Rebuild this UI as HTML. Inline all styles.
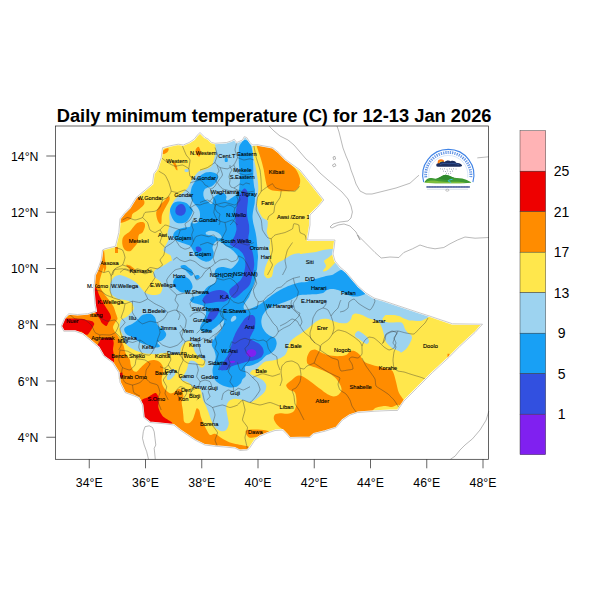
<!DOCTYPE html>
<html><head><meta charset="utf-8">
<style>
html,body{margin:0;padding:0;background:#fff;}
body{width:600px;height:600px;overflow:hidden;position:relative;font-family:"Liberation Sans",sans-serif;}
svg{position:absolute;left:0;top:0;}
text{font-family:"Liberation Sans",sans-serif;fill:#000;}
.t{font-size:12.3px;}
.cb{font-size:14px;}
.lb{font-size:5.7px;}
.lb text{stroke:#000;stroke-width:0.12px;}
</style></head><body>
<svg width="600" height="600" viewBox="0 0 600 600">
<defs><clipPath id="eth"><path d="M162.5 147.8L170.0 145.8L178.3 144.2L183.3 145.0L189.2 142.5L194.2 139.2L197.5 135.0L200.0 132.5L202.5 135.0L205.0 137.5L208.3 139.2L211.7 142.5L215.0 143.3L226.7 142.5L231.7 140.8L234.2 139.2L236.7 142.5L242.5 140.0L244.2 136.7L246.7 137.5L250.0 142.5L252.5 145.0L258.3 144.7L258.8 145.0L272.5 147.5L278.8 152.5L286.2 160.0L300.0 170.0L310.0 182.5L323.8 200.0L317.5 207.5L310.0 215.0L310.0 225.0L307.5 240.0L335.0 240.0L335.0 240.0L334.0 248.0L333.0 254.0L335.0 261.0L340.0 267.0L346.0 272.0L352.0 279.0L358.0 286.0L366.0 293.0L374.0 298.0L384.0 301.0L396.0 305.0L408.0 309.0L420.0 313.0L430.0 316.2L452.5 323.8L482.5 324.2L475.0 332.5L460.0 346.2L448.8 357.5L432.5 372.5L417.5 387.5L403.8 401.2L397.5 410.5L390.0 410.5L375.0 411.2L357.5 412.5L350.0 415.0L342.5 420.0L336.2 427.5L325.0 431.2L313.8 433.8L310.0 437.5L290.0 438.0L287.5 435.0L282.5 430.0L275.0 430.5L267.5 433.0L260.0 436.2L255.0 440.0L250.0 447.5L247.5 450.0L240.0 450.5L235.0 448.0L225.0 447.0L215.0 446.2L205.0 445.0L195.0 440.0L187.5 435.0L180.0 430.0L173.8 425.0L165.0 423.8L150.0 422.5L143.8 417.5L142.5 405.0L138.8 398.0L135.0 396.2L125.0 392.5L120.0 382.5L118.8 372.5L112.5 362.5L103.8 356.2L98.8 347.5L90.0 340.0L82.5 333.8L75.0 331.2L63.8 331.2L61.2 326.2L65.0 317.5L68.8 313.8L77.5 314.5L87.5 313.8L96.2 311.2L95.0 305.0L93.8 290.0L95.0 275.0L97.5 270.0L101.2 260.0L102.5 250.0L105.0 248.8L115.5 246.2L118.8 232.5L120.0 218.8L125.0 212.5L130.0 207.5L136.2 197.5L152.5 183.8L153.8 173.8L157.5 168.8L161.2 157.5L162.5 148.0Z"/></clipPath></defs>
<g clip-path="url(#eth)">
<rect x="50" y="120" width="450" height="345" fill="#ffe74c"/>
<path d="M162.5 151.7C162.9 150.8 164.0 149.7 165.0 149.2C166.0 148.6 167.8 148.1 168.3 148.3C168.9 148.6 168.8 150.0 168.3 150.8C167.9 151.7 166.8 152.8 165.8 153.3C164.9 153.9 163.1 154.4 162.5 154.2C161.9 153.9 162.1 152.5 162.5 151.7Z" fill="#ff8c00"/>
<path d="M195.8 149.2C196.2 148.2 197.6 146.7 198.3 146.7C199.0 146.7 199.6 148.1 200.0 149.2C200.4 150.3 201.0 152.1 200.8 153.3C200.7 154.6 199.8 156.4 199.2 156.7C198.5 156.9 197.6 155.7 197.0 155.0C196.4 154.3 196.0 153.5 195.8 152.5C195.6 151.5 195.4 150.1 195.8 149.2Z" fill="#ff8c00"/>
<path d="M172.5 161.7C172.6 161.1 174.3 161.8 175.0 162.5C175.7 163.2 176.2 164.6 176.7 165.8C177.1 167.1 177.6 169.4 177.5 170.0C177.4 170.6 176.4 169.9 175.8 169.2C175.3 168.5 174.7 167.1 174.2 165.8C173.6 164.6 172.4 162.2 172.5 161.7Z" fill="#ff8c00"/>
<path d="M133.8 196.2C136.1 195.1 141.3 198.1 143.0 199.5C144.7 200.9 144.9 202.7 144.0 204.5C143.1 206.3 139.4 208.9 137.5 210.5C135.6 212.1 133.7 212.6 132.5 214.0C131.3 215.4 132.5 217.5 130.5 219.0C128.5 220.5 122.7 222.8 120.5 223.0C118.3 223.2 117.2 221.8 117.5 220.0C117.8 218.2 120.6 214.8 122.5 212.5C124.4 210.2 126.9 209.0 128.8 206.2C130.6 203.5 131.4 197.4 133.8 196.2Z" fill="#ff8c00"/>
<path d="M163.8 201.2C165.2 199.8 167.8 196.5 168.8 196.2C169.7 196.0 170.0 198.1 169.5 200.0C169.0 201.9 166.8 205.0 165.5 207.5C164.2 210.0 162.7 212.3 162.0 215.0C161.3 217.7 161.9 222.7 161.2 223.8C160.6 224.8 158.8 223.1 158.0 221.2C157.2 219.4 155.9 215.2 156.2 212.5C156.6 209.8 158.8 206.9 160.0 205.0C161.2 203.1 162.3 202.7 163.8 201.2Z" fill="#ff8c00"/>
<path d="M125.0 235.0C126.2 233.8 128.3 232.9 130.0 231.2C131.7 229.6 133.5 226.5 135.0 225.0C136.5 223.5 137.3 222.9 138.8 222.5C140.2 222.1 142.7 221.9 143.8 222.5C144.8 223.1 145.2 224.6 145.0 226.2C144.8 227.9 143.5 231.0 142.5 232.5C141.5 234.0 139.6 233.3 138.8 235.0C137.9 236.7 138.3 240.4 137.5 242.5C136.7 244.6 135.0 246.0 133.8 247.5C132.5 249.0 131.5 250.8 130.0 251.2C128.5 251.7 126.2 251.0 125.0 250.0C123.8 249.0 122.9 246.9 122.5 245.0C122.1 243.1 122.1 240.4 122.5 238.8C122.9 237.1 123.8 236.2 125.0 235.0Z" fill="#ff8c00"/>
<path d="M126.2 265.0C126.5 264.5 129.8 265.4 131.2 266.2C132.7 267.1 135.2 269.5 135.0 270.0C134.8 270.5 131.5 270.3 130.0 269.5C128.5 268.7 126.0 265.5 126.2 265.0Z" fill="#ff8c00"/>
<path d="M115.0 247.0L118.0 247.0L118.0 253.0L115.0 253.0Z" fill="#ff8c00"/>
<path d="M100.0 247.5C102.1 248.2 103.0 248.1 103.8 250.0C104.5 251.9 104.6 257.4 105.0 260.0C105.4 262.6 106.4 265.6 106.2 267.5C106.1 269.4 104.1 273.0 103.8 273.0C103.4 273.0 104.1 267.2 103.8 267.5C103.4 267.8 101.9 272.8 101.2 275.0C100.6 277.2 99.6 280.6 99.5 282.5C99.4 284.4 99.7 286.1 100.5 288.0C101.3 289.9 103.6 293.0 105.0 295.0C106.4 297.0 108.7 299.4 110.0 301.2C111.3 303.1 112.9 305.4 113.8 307.2C114.6 309.1 115.2 311.5 115.8 313.2C116.3 315.0 117.6 317.3 117.5 318.8C117.4 320.2 115.7 321.5 115.0 322.8C114.3 324.0 113.0 325.9 113.0 327.2C113.0 328.6 114.3 330.7 115.0 332.0C115.7 333.3 117.0 334.8 117.8 336.0C118.5 337.2 119.5 338.8 120.2 340.0C121.0 341.2 122.4 342.8 123.0 344.0C123.6 345.2 123.9 346.6 124.2 348.0C124.6 349.4 124.8 351.5 125.5 353.0C126.2 354.5 128.1 356.9 128.8 358.0C129.4 359.1 129.7 358.9 130.0 360.0C130.3 361.1 130.3 363.4 130.8 365.0C131.3 366.6 132.5 369.8 133.3 370.8C134.2 371.8 135.7 372.0 136.7 371.7C137.7 371.3 138.9 369.5 140.0 368.3C141.1 367.2 142.8 365.3 144.2 364.2C145.5 363.0 147.7 361.5 149.2 360.8C150.7 360.2 152.7 359.9 154.2 360.0C155.7 360.1 157.9 360.8 159.2 361.7C160.4 362.5 161.9 364.3 162.5 365.8C163.1 367.3 163.5 369.8 163.3 371.7C163.2 373.5 161.8 376.3 161.7 378.3C161.5 380.3 161.9 383.2 162.5 385.0C163.1 386.8 164.7 388.8 165.8 390.0C167.0 391.2 168.8 393.0 170.0 393.3C171.2 393.7 173.2 393.0 174.2 392.5C175.2 392.0 175.8 390.5 176.7 390.0C177.5 389.5 179.1 388.9 180.0 389.2C180.9 389.4 182.0 390.5 182.5 391.7C183.0 392.8 183.5 395.2 183.3 396.7C183.2 398.2 181.8 399.9 181.7 401.7C181.5 403.4 182.2 406.3 182.5 408.3C182.8 410.3 183.1 413.0 183.3 415.0C183.6 417.0 183.4 420.4 184.2 421.7C184.9 422.9 187.1 423.6 188.3 423.3C189.6 423.1 191.5 421.5 192.5 420.0C193.5 418.5 194.4 415.1 195.0 413.3C195.6 411.6 196.0 408.8 196.7 408.3C197.3 407.8 198.5 408.8 199.2 410.0C199.8 411.2 200.2 414.7 200.8 416.7C201.5 418.7 202.5 421.3 203.3 423.3C204.2 425.3 205.7 428.2 206.7 430.0C207.7 431.8 208.8 434.4 210.0 435.0C211.2 435.6 213.1 433.2 215.0 433.8C216.9 434.3 220.2 437.4 222.5 438.8C224.8 440.1 227.8 441.7 230.0 442.5C232.2 443.3 235.2 443.8 237.5 444.2C239.8 444.7 243.2 445.2 245.0 445.8C246.8 446.3 248.8 445.9 249.5 448.0C250.2 450.1 267.9 458.2 250.0 460.0C232.1 461.8 160.0 469.0 130.0 460.0C100.0 451.0 62.0 424.0 50.0 400.0C38.0 376.0 44.0 323.2 50.0 300.0C56.0 276.8 82.5 252.9 90.0 245.0C97.5 237.1 97.9 246.8 100.0 247.5Z" fill="#ff8c00"/>
<path d="M246.0 430.5C247.5 429.2 254.3 429.4 258.0 429.5C261.7 429.6 266.3 430.2 268.0 431.0C269.7 431.8 269.7 433.1 268.0 434.0C266.3 434.9 261.2 435.9 258.0 436.5C254.8 437.1 251.0 438.5 249.0 437.5C247.0 436.5 244.5 431.8 246.0 430.5Z" fill="#ff8c00"/>
<path d="M257.0 142.5C258.9 142.0 269.6 145.0 272.5 146.2C275.4 147.5 277.1 150.2 278.8 152.0C280.4 153.8 283.7 158.1 285.0 159.5C286.3 160.9 287.2 161.1 288.8 162.5C290.2 163.9 294.8 167.8 296.2 170.0C297.8 172.2 299.6 176.8 300.0 178.8C300.4 180.8 300.2 183.4 299.5 185.0C298.8 186.6 297.3 189.7 295.0 190.5C292.7 191.3 285.5 191.2 282.5 191.2C279.5 191.2 274.5 191.0 272.5 190.5C270.5 190.0 268.4 188.9 267.5 187.5C266.6 186.1 266.0 182.3 265.5 180.0C265.0 177.7 264.3 172.7 263.8 170.0C263.2 167.3 262.0 162.7 261.2 160.0C260.5 157.3 258.6 152.3 258.0 150.0C257.4 147.7 255.1 143.0 257.0 142.5Z" fill="#ff8c00"/>
<path d="M286.2 385.0C286.6 383.6 289.6 381.9 291.2 380.5C292.9 379.1 295.6 376.3 297.5 375.8C299.4 375.2 301.5 375.9 303.8 377.0C306.0 378.1 310.1 381.2 312.5 383.0C314.9 384.8 317.8 387.1 320.0 388.8C322.2 390.4 325.4 393.1 327.5 394.2C329.6 395.4 332.1 396.5 333.8 396.5C335.4 396.5 337.6 395.5 338.8 394.5C339.9 393.5 341.3 391.5 341.5 390.0C341.7 388.5 341.0 386.4 340.0 384.5C339.0 382.6 336.9 379.3 335.0 377.5C333.1 375.7 330.1 373.9 327.5 372.5C324.9 371.1 320.4 369.5 317.5 368.2C314.6 367.0 309.6 365.9 308.0 364.2C306.4 362.6 306.7 359.4 307.0 357.5C307.3 355.6 308.8 352.4 310.0 351.2C311.2 350.1 313.3 349.3 315.0 349.5C316.7 349.7 319.4 351.7 321.2 352.5C323.1 353.3 325.1 354.4 327.5 355.0C329.9 355.6 334.7 356.2 337.5 356.2C340.3 356.2 344.4 355.8 346.2 355.0C348.1 354.2 348.7 351.8 350.0 351.2C351.3 350.7 353.5 350.7 355.0 351.2C356.5 351.8 358.7 353.5 360.0 355.0C361.3 356.5 361.9 359.8 363.8 361.2C365.6 362.8 369.7 364.1 372.5 365.0C375.3 365.9 379.7 366.8 382.5 367.5C385.3 368.2 389.6 369.1 391.2 370.0C392.9 370.9 393.0 371.9 393.8 373.8C394.5 375.6 395.5 379.7 396.2 382.5C397.0 385.3 397.6 389.9 398.8 392.5C399.9 395.1 402.6 398.1 403.8 400.0C404.9 401.9 406.8 402.0 406.2 405.0C405.7 408.0 409.9 414.8 400.0 420.0C390.1 425.2 356.5 436.2 340.0 440.0C323.5 443.8 297.9 445.8 290.0 445.0C282.1 444.2 288.4 437.2 287.5 435.0C286.6 432.8 284.9 431.1 283.8 430.0C282.6 428.9 281.1 428.4 280.0 427.5C278.9 426.6 277.2 425.1 276.2 423.8C275.3 422.4 273.9 420.1 273.8 418.8C273.6 417.4 274.1 415.3 275.0 414.5C275.9 413.7 278.1 413.4 280.0 413.2C281.9 413.1 285.4 414.1 287.5 413.8C289.6 413.4 292.4 412.6 293.8 411.2C295.1 409.9 295.9 407.1 296.2 405.0C296.6 402.9 296.5 399.4 296.2 397.5C296.0 395.6 295.6 393.2 294.5 392.0C293.4 390.8 290.0 390.6 288.8 389.5C287.5 388.4 285.9 386.4 286.2 385.0Z" fill="#ff8c00"/>
<path d="M447.5 353.8L449.5 353.8L449.5 358.8L447.5 358.8Z" fill="#ff8c00"/>
<path d="M375.0 408.2C376.7 407.0 382.2 406.2 385.0 406.0C387.8 405.8 389.7 407.2 392.0 407.0C394.3 406.8 397.2 404.0 399.0 405.0C400.8 406.0 407.0 411.7 403.0 413.0C399.0 414.3 379.7 413.8 375.0 413.0C370.3 412.2 373.3 409.4 375.0 408.2Z" fill="#ffe74c"/>
<path d="M92.0 287.0C92.6 285.9 95.4 287.0 96.3 288.0C97.2 289.0 98.2 292.9 99.0 294.7C99.8 296.5 101.3 299.5 102.3 301.3C103.3 303.1 105.3 306.4 106.3 308.0C107.3 309.6 109.1 312.0 109.7 313.3C110.3 314.6 111.2 316.7 111.0 318.0C110.8 319.3 108.9 321.6 108.3 322.7C107.7 323.8 107.2 326.0 106.3 326.0C105.4 326.0 102.6 323.7 101.7 322.7C100.8 321.7 100.5 320.0 99.7 318.7C98.9 317.4 96.4 314.8 95.5 313.0C94.6 311.2 93.5 307.3 93.0 305.0C92.5 302.7 92.1 298.4 92.0 296.0C91.9 293.6 91.4 288.1 92.0 287.0Z" fill="#ee0000"/>
<path d="M60.0 318.7C62.4 318.1 79.1 318.6 81.7 318.7C84.3 318.8 85.2 319.7 86.3 320.0C87.4 320.3 91.5 320.9 92.3 321.3C93.1 321.7 94.3 323.3 94.3 324.0C94.3 324.7 92.7 327.3 92.3 328.0C91.9 328.7 90.8 330.6 90.3 331.3C89.8 332.0 88.4 334.4 87.7 334.7C87.0 335.0 84.3 334.6 83.7 334.3C83.1 334.0 82.6 332.1 81.7 331.8C80.8 331.5 77.2 331.5 75.0 331.5C72.8 331.5 61.7 332.6 60.0 332.0C58.3 331.4 58.0 326.3 58.0 325.0C58.0 323.7 57.6 319.3 60.0 318.7Z" fill="#ee0000"/>
<path d="M101.7 338.7C103.4 338.1 110.1 337.5 111.7 338.0C113.3 338.5 113.5 341.2 113.7 342.7C113.9 344.2 113.0 347.7 113.0 349.3C113.0 350.9 113.6 352.9 113.7 354.7C113.8 356.5 114.6 362.2 113.5 363.0C112.4 363.8 107.2 361.9 105.7 361.0C104.2 360.1 103.0 357.2 102.0 356.0C101.0 354.8 99.0 353.2 98.3 352.0C97.6 350.8 96.4 348.2 96.5 347.0C96.6 345.8 98.3 343.8 99.0 342.7C99.7 341.6 100.0 339.3 101.7 338.7Z" fill="#ee0000"/>
<path d="M141.7 400.3C142.5 398.7 146.1 398.3 147.5 397.5C148.9 396.7 151.4 394.8 152.5 394.2C153.6 393.6 155.1 392.7 155.8 393.0C156.6 393.3 158.0 395.5 158.3 396.7C158.7 397.8 158.7 400.3 158.7 401.7C158.7 403.0 158.2 405.3 158.3 406.7C158.5 408.0 159.3 410.3 160.0 411.7C160.7 413.0 162.2 415.6 163.3 416.7C164.4 417.8 167.1 419.1 168.3 420.0C169.6 420.9 172.9 422.8 172.5 423.3C172.1 423.9 167.1 424.1 165.0 424.2C162.9 424.3 158.7 424.3 156.7 424.2C154.7 424.1 151.4 423.7 150.0 423.3C148.6 423.0 146.9 422.4 145.8 421.7C144.7 420.9 142.3 419.1 141.7 417.5C141.1 415.9 141.3 412.3 141.3 410.0C141.3 407.7 140.8 402.0 141.7 400.3Z" fill="#ee0000"/>
<path d="M117.5 373.3L122.5 372.5L123.0 377.5L118.0 378.0Z" fill="#ee0000"/>
<path d="M215.0 125.0C210.1 127.5 214.9 140.6 215.0 143.7C215.1 146.8 215.8 146.8 215.8 148.3C215.8 149.8 215.3 153.2 215.0 155.0C214.7 156.8 213.8 160.2 213.3 161.7C212.9 163.1 212.3 164.9 211.7 165.8C211.0 166.7 209.4 167.8 208.3 168.3C207.2 168.9 204.7 169.6 203.3 170.0C202.0 170.4 199.6 170.8 198.3 171.7C197.1 172.6 195.2 175.3 194.2 176.7C193.2 178.0 191.6 180.3 190.8 181.7C190.1 183.0 189.1 185.4 188.3 186.7C187.6 187.9 186.1 189.7 185.0 190.8C183.9 191.9 181.2 194.0 180.0 195.0C178.8 196.0 176.8 197.2 175.8 198.3C174.8 199.4 173.3 201.8 172.5 203.3C171.7 204.9 170.4 208.2 170.0 210.0C169.6 211.8 169.2 214.9 169.2 216.7C169.2 218.4 169.9 222.9 170.0 223.3C170.1 223.8 170.1 219.6 170.0 220.0C169.9 220.4 169.5 224.9 169.2 226.7C168.8 228.4 167.6 231.6 167.5 233.3C167.4 235.1 168.6 238.4 168.3 240.0C168.1 241.6 166.5 243.7 165.8 245.0C165.2 246.3 163.2 248.9 163.3 250.0C163.4 251.1 165.7 252.6 166.7 253.3C167.7 254.1 170.2 254.8 170.8 255.8C171.5 256.8 171.8 260.1 171.7 260.8C171.6 261.6 171.2 260.5 170.0 261.2C168.8 262.0 164.5 265.1 162.5 266.2C160.5 267.4 156.2 268.7 155.0 270.0C153.8 271.3 153.1 274.8 153.8 276.2C154.4 277.8 158.8 279.8 160.0 281.2C161.2 282.8 162.5 285.8 162.5 287.5C162.5 289.2 161.3 292.8 160.0 293.8C158.7 294.8 154.5 295.2 152.5 295.0C150.5 294.8 147.0 294.0 145.0 292.5C143.0 291.0 139.5 285.6 137.5 283.8C135.5 281.9 132.3 279.9 130.0 278.8C127.7 277.6 122.2 275.2 120.0 275.0C117.8 274.8 115.1 276.2 113.8 277.5C112.4 278.8 110.3 282.8 110.0 285.0C109.7 287.2 110.2 291.9 111.2 293.8C112.2 295.6 115.7 297.9 117.5 298.8C119.3 299.6 123.2 299.5 125.0 300.0C126.8 300.5 130.1 301.3 131.2 302.5C132.4 303.7 134.2 306.9 133.8 308.8C133.2 310.6 129.2 314.8 127.5 316.2C125.8 317.8 122.3 318.5 121.2 320.0C120.2 321.5 119.3 325.5 119.5 327.5C119.7 329.5 121.8 333.0 122.5 335.0C123.2 337.0 124.0 340.8 125.0 342.5C126.0 344.2 128.3 346.3 130.0 347.5C131.7 348.7 135.2 350.4 137.5 351.2C139.8 352.1 145.2 353.4 147.5 353.8C149.8 354.1 153.3 354.2 155.0 354.2C156.7 354.2 158.8 353.7 160.0 353.5C161.2 353.3 163.0 353.1 164.0 353.0C165.0 352.9 166.7 352.4 167.5 352.5C168.3 352.6 169.3 353.7 170.0 354.0C170.7 354.3 172.1 354.5 173.0 354.5C173.9 354.5 175.6 354.2 176.5 354.0C177.4 353.8 179.4 353.8 180.0 353.0C180.6 352.2 180.5 349.2 181.0 348.0C181.5 346.8 182.7 344.9 183.5 344.0C184.3 343.1 186.1 341.5 187.0 341.2C187.9 340.9 189.3 341.1 190.0 341.5C190.7 341.9 191.5 343.1 192.0 344.0C192.5 344.9 193.1 346.9 193.5 348.0C193.9 349.1 194.4 350.9 195.0 352.0C195.6 353.1 197.1 355.1 198.0 356.0C198.9 356.9 201.1 358.3 202.0 359.0C202.9 359.7 204.6 360.5 205.0 361.2C205.4 361.9 205.2 363.7 205.0 364.5C204.8 365.3 204.0 366.6 203.5 367.0C203.0 367.4 201.6 367.7 201.0 367.5C200.4 367.3 199.5 366.1 199.0 365.5C198.5 364.9 197.7 363.6 197.0 363.0C196.3 362.4 194.8 361.3 194.0 361.0C193.2 360.7 191.7 360.4 191.0 360.5C190.3 360.6 189.4 361.4 189.0 362.0C188.6 362.6 188.3 364.1 188.0 365.0C187.7 365.9 187.4 367.9 187.0 369.0C186.6 370.1 185.6 371.9 185.0 373.0C184.4 374.1 183.0 376.1 182.5 377.0C182.0 377.9 180.9 379.0 181.0 379.5C181.1 380.0 182.3 380.7 183.0 381.0C183.7 381.3 185.2 381.2 186.0 381.5C186.8 381.8 188.3 382.5 189.0 383.0C189.7 383.5 190.5 384.5 191.0 385.0C191.5 385.5 192.3 386.6 193.0 387.0C193.7 387.4 195.2 387.8 196.0 388.0C196.8 388.2 198.3 388.1 199.0 388.5C199.7 388.9 200.6 390.1 201.0 391.0C201.4 391.9 201.7 393.8 202.0 395.0C202.3 396.2 202.5 398.7 203.0 400.0C203.5 401.3 204.8 403.5 205.5 405.0C206.2 406.5 207.2 409.0 208.0 411.0C208.8 413.0 210.3 417.8 211.2 420.0C212.2 422.2 213.7 426.0 215.0 427.5C216.3 429.0 219.8 430.9 221.2 431.2C222.8 431.6 225.2 431.0 226.2 430.0C227.2 429.0 228.6 425.6 228.8 423.8C228.9 421.9 227.8 418.4 227.5 416.2C227.2 414.1 226.1 409.5 226.2 407.5C226.4 405.5 227.6 402.4 228.8 401.2C229.9 400.1 233.2 398.9 235.0 398.8C236.8 398.6 240.5 399.5 242.5 400.0C244.5 400.5 248.3 402.5 250.0 402.5C251.7 402.5 253.7 400.8 255.0 400.0C256.3 399.2 258.7 397.4 260.0 396.2C261.3 395.1 264.2 392.8 265.0 391.2C265.8 389.8 266.6 386.5 266.2 385.0C265.9 383.5 264.0 381.2 262.5 380.0C261.0 378.8 256.7 377.1 255.0 376.2C253.3 375.4 250.3 374.6 250.0 373.8C249.7 372.9 251.7 370.5 252.5 370.0C253.3 369.5 255.1 370.3 255.8 370.0C256.6 369.7 257.6 368.3 258.3 367.5C259.1 366.7 260.8 364.9 261.7 364.2C262.6 363.4 263.9 362.1 265.0 361.7C266.1 361.2 268.7 361.1 270.0 360.8C271.3 360.6 273.7 360.3 275.0 360.0C276.3 359.7 278.7 359.0 280.0 358.3C281.3 357.7 284.0 356.1 285.0 355.0C286.0 353.9 287.1 351.3 287.5 350.0C287.9 348.7 287.8 346.3 288.3 345.0C288.9 343.7 290.7 341.1 291.7 340.0C292.7 338.9 294.7 337.5 295.8 336.7C296.9 335.9 298.6 334.9 300.0 334.0C301.4 333.1 304.4 331.2 306.0 330.0C307.6 328.8 310.5 326.2 312.0 325.0C313.5 323.8 315.7 321.8 317.0 321.0C318.3 320.2 320.5 319.3 322.0 319.0C323.5 318.7 326.5 318.7 328.0 319.0C329.5 319.3 331.4 320.5 333.0 321.0C334.6 321.5 338.1 322.7 340.0 323.0C341.9 323.3 345.5 323.5 347.0 323.0C348.5 322.5 350.3 320.1 351.0 319.0C351.7 317.9 351.7 315.7 352.4 315.0C353.1 314.3 354.7 313.6 356.0 313.6C357.3 313.6 360.4 314.4 362.0 315.0C363.6 315.6 366.4 317.3 368.0 318.0C369.6 318.7 372.5 319.5 374.0 320.0C375.5 320.5 377.9 320.9 379.0 322.0C380.1 323.1 381.3 326.3 382.0 328.0C382.7 329.7 383.5 333.1 384.0 335.0C384.5 336.9 384.9 340.3 386.0 342.0C387.1 343.7 390.3 346.8 392.0 348.0C393.7 349.2 397.7 350.4 399.0 351.0C400.3 351.6 400.4 352.9 401.5 352.5C402.6 352.1 405.9 349.3 407.0 348.0C408.1 346.7 409.3 344.3 410.0 343.0C410.7 341.7 411.9 339.1 412.0 338.0C412.1 336.9 411.5 335.7 411.0 335.0C410.5 334.3 408.8 333.8 408.0 333.0C407.2 332.2 405.6 330.1 405.0 329.0C404.4 327.9 404.0 325.9 403.5 325.0C403.0 324.1 402.4 322.9 401.5 322.5C400.6 322.1 398.5 322.2 397.0 322.2C395.5 322.2 391.7 322.6 390.0 322.5C388.3 322.4 385.0 321.7 384.0 321.2C383.0 320.7 382.5 319.6 382.5 319.0C382.5 318.4 383.5 317.3 384.0 316.8C384.5 316.3 384.9 315.2 386.0 315.0C387.1 314.8 390.3 314.9 392.0 315.0C393.7 315.1 397.4 315.5 399.0 316.0C400.6 316.5 402.5 317.9 404.0 318.5C405.5 319.1 407.9 320.2 410.0 320.5C412.1 320.8 418.1 321.1 420.0 321.0C421.9 320.9 423.0 320.0 424.0 319.5C425.0 319.0 426.3 318.8 427.8 317.5C429.3 316.2 438.7 313.4 435.0 310.0C431.3 306.6 409.3 296.3 400.0 292.0C390.7 287.7 371.7 282.0 365.0 278.0C358.3 274.0 353.3 267.3 350.0 262.0C346.7 256.7 342.1 239.9 340.0 238.0C337.9 236.1 335.3 246.5 334.0 248.0C332.7 249.5 331.5 248.7 330.0 249.0C328.5 249.3 324.9 249.6 323.0 250.0C321.1 250.4 318.0 251.6 316.0 252.0C314.0 252.4 310.1 252.7 308.0 253.0C305.9 253.3 301.1 254.0 300.0 254.0C298.9 254.0 300.9 253.3 300.0 253.3C299.1 253.4 294.9 253.7 293.3 254.2C291.8 254.6 289.7 255.9 288.3 256.7C287.0 257.4 284.7 259.2 283.3 260.0C282.0 260.8 279.6 261.6 278.3 262.5C277.1 263.4 274.9 265.4 274.2 266.7C273.5 267.9 273.3 270.3 273.0 271.7C272.7 273.0 272.4 275.8 271.7 276.7C270.9 277.6 268.5 278.6 267.5 278.3C266.5 278.1 264.5 276.3 264.2 275.0C263.8 273.7 264.6 270.1 265.0 268.3C265.4 266.6 266.8 263.4 267.5 261.7C268.2 259.9 269.8 256.8 270.0 255.0C270.2 253.2 269.2 250.1 269.2 248.3C269.2 246.6 270.1 243.2 270.0 241.7C269.9 240.1 268.8 238.0 268.3 236.7C267.9 235.3 266.8 233.0 266.7 231.7C266.6 230.3 267.4 228.1 267.5 226.7C267.6 225.2 268.1 221.9 267.5 220.8C266.9 219.7 264.2 219.1 263.3 218.3C262.4 217.6 261.5 216.1 260.8 215.0C260.2 213.9 258.9 211.6 258.3 210.0C257.8 208.4 256.8 205.1 256.7 203.3C256.6 201.6 257.3 198.4 257.5 196.7C257.7 194.9 258.3 191.9 258.3 190.0C258.4 188.1 258.3 185.2 258.0 182.5C257.7 179.8 256.8 173.3 256.2 170.0C255.7 166.7 254.2 160.8 253.8 157.5C253.2 154.2 252.7 149.3 252.5 145.0C252.3 140.7 257.0 127.7 252.0 125.0C247.0 122.3 219.9 122.5 215.0 125.0Z" fill="#9dd3f0"/>
<path d="M323.0 271.0C323.0 270.2 325.8 267.7 326.0 266.0C326.2 264.3 323.7 262.3 324.0 261.0C324.3 259.7 326.5 259.1 328.0 258.0C329.5 256.9 331.5 254.2 333.0 254.4C334.5 254.6 336.8 257.4 337.0 259.0C337.2 260.6 335.2 262.5 334.0 264.0C332.8 265.5 331.3 266.8 330.0 268.0C328.7 269.2 327.2 270.5 326.0 271.0C324.8 271.5 323.0 271.8 323.0 271.0Z" fill="#ffe74c"/>
<path d="M167.0 377.0C167.2 375.9 167.9 374.2 168.5 373.0C169.1 371.8 169.8 370.7 170.5 370.0C171.2 369.3 172.2 369.0 173.0 369.0C173.8 369.0 174.6 369.3 175.0 370.0C175.4 370.7 175.7 372.0 175.5 373.0C175.3 374.0 174.7 375.1 174.0 376.0C173.3 376.9 172.3 377.8 171.5 378.5C170.7 379.2 169.7 379.8 169.0 380.0C168.3 380.2 167.5 380.0 167.2 379.5C166.9 379.0 166.8 378.1 167.0 377.0Z" fill="#9dd3f0"/>
<path d="M355.0 334.0C355.4 333.0 356.8 331.2 358.0 331.0C359.2 330.8 360.5 332.0 362.0 333.0C363.5 334.0 365.8 335.7 367.0 337.0C368.2 338.3 369.0 339.8 369.0 341.0C369.0 342.2 368.0 343.8 367.0 344.0C366.0 344.2 364.3 342.8 363.0 342.0C361.7 341.2 360.2 339.8 359.0 339.0C357.8 338.2 356.3 337.8 355.6 337.0C354.9 336.2 354.6 335.0 355.0 334.0Z" fill="#9dd3f0"/>
<path d="M185.0 169.2C185.6 168.8 187.8 168.8 188.3 169.2C188.9 169.6 188.9 171.2 188.3 171.7C187.8 172.1 185.6 172.1 185.0 171.7C184.4 171.2 184.4 169.6 185.0 169.2Z" fill="#9dd3f0"/>
<path d="M241.7 142.5C242.3 141.6 243.3 140.2 244.2 140.0C245.1 139.8 247.4 140.2 248.3 140.8C249.2 141.5 250.3 143.6 250.8 145.0C251.4 146.4 252.2 149.7 252.5 151.7C252.8 153.7 252.9 157.8 253.0 160.0C253.1 162.2 253.3 165.9 253.3 168.3C253.4 170.8 253.2 175.9 253.3 178.3C253.4 180.8 253.9 185.1 254.2 186.7C254.4 188.2 254.9 188.7 255.0 190.0C255.1 191.3 255.0 194.9 255.0 196.7C255.0 198.4 254.9 201.6 254.7 203.3C254.4 205.1 253.6 208.2 253.3 210.0C253.0 211.8 252.5 214.9 252.5 216.7C252.5 218.4 253.0 221.6 253.3 223.3C253.7 225.1 254.6 228.2 255.0 230.0C255.4 231.8 256.1 234.9 256.3 236.7C256.6 238.4 256.8 241.6 257.0 243.3C257.2 245.1 257.4 248.2 257.5 250.0C257.6 251.8 258.0 254.9 258.0 256.7C258.0 258.4 257.6 261.6 257.5 263.3C257.4 265.1 257.1 269.1 257.0 270.0C256.9 270.9 256.8 269.1 256.7 270.0C256.5 270.9 256.2 274.9 255.8 276.7C255.5 278.4 254.7 281.6 254.2 283.3C253.6 285.1 252.3 288.2 251.7 290.0C251.0 291.8 249.9 295.1 249.2 296.7C248.4 298.2 246.6 300.4 245.8 301.7C245.1 302.9 243.9 304.8 243.7 305.8C243.4 306.8 243.7 308.6 244.2 309.2C244.7 309.7 246.3 310.2 247.5 310.0C248.7 309.8 251.7 308.3 253.3 307.5C255.0 306.7 258.2 305.3 260.0 304.2C261.8 303.1 264.9 300.5 266.7 299.2C268.4 297.8 271.6 295.4 273.3 294.2C275.1 292.9 278.2 291.0 280.0 290.0C281.8 289.0 284.9 287.4 286.7 286.7C288.4 285.9 291.6 284.7 293.3 284.2C295.1 283.6 298.3 282.8 300.0 282.5C301.7 282.2 304.4 282.3 306.0 282.0C307.6 281.7 310.3 280.5 312.0 280.0C313.7 279.5 317.1 278.5 319.0 278.0C320.9 277.5 324.3 276.4 326.0 276.0C327.7 275.6 330.5 275.5 332.0 275.0C333.5 274.5 335.8 272.7 337.0 272.0C338.2 271.3 339.9 270.1 341.0 270.0C342.1 269.9 343.5 270.4 345.0 271.6C346.5 272.8 350.3 277.1 352.0 279.0C353.7 280.9 356.3 284.1 358.0 286.0C359.7 287.9 364.1 291.9 365.0 293.0C365.9 294.1 365.7 293.6 365.0 294.0C364.3 294.4 361.5 295.7 360.0 296.0C358.5 296.3 355.6 296.7 354.0 296.6C352.4 296.5 349.5 295.6 348.0 295.0C346.5 294.4 344.3 293.1 343.0 292.4C341.7 291.7 339.5 290.5 338.0 290.0C336.5 289.5 333.5 289.0 332.0 289.0C330.5 289.0 328.2 289.5 327.0 290.0C325.8 290.5 324.2 292.5 323.0 293.0C321.8 293.5 319.7 293.8 318.0 294.0C316.3 294.2 312.4 294.3 310.0 294.4C307.6 294.5 302.0 294.6 300.0 295.0C298.0 295.4 296.3 296.8 295.0 297.5C293.7 298.2 291.6 299.3 290.0 300.0C288.4 300.7 285.1 301.8 283.3 302.5C281.6 303.2 278.4 304.3 276.7 305.0C274.9 305.7 271.4 306.7 270.0 307.5C268.6 308.3 266.8 309.7 265.8 310.8C264.8 311.9 263.1 314.4 262.5 315.8C261.9 317.3 261.3 320.1 261.3 321.7C261.3 323.2 261.9 326.1 262.5 327.5C263.1 328.9 264.8 331.4 265.8 332.5C266.8 333.6 268.8 335.1 270.0 335.8C271.2 336.6 274.1 337.3 275.0 338.3C275.9 339.3 276.7 341.9 276.7 343.3C276.7 344.8 275.8 347.8 275.0 349.2C274.2 350.5 272.1 352.4 270.8 353.3C269.6 354.2 267.1 354.9 265.8 355.8C264.6 356.7 262.9 359.0 261.7 360.0C260.4 361.0 258.2 362.6 256.7 363.3C255.1 364.1 251.6 365.4 250.0 365.8C248.4 366.3 245.6 365.3 245.0 366.7C244.4 368.0 246.2 374.2 245.8 375.8C245.5 377.5 243.2 378.2 242.5 379.2C241.8 380.2 241.6 382.3 240.8 383.3C240.1 384.3 238.1 386.1 236.7 386.7C235.2 387.2 231.8 387.6 230.0 387.5C228.2 387.4 225.1 386.6 223.3 385.8C221.6 385.1 218.0 382.9 216.7 381.7C215.3 380.4 213.9 378.2 213.3 376.7C212.8 375.1 212.4 371.8 212.5 370.0C212.6 368.2 213.7 365.1 214.2 363.3C214.6 361.6 215.8 358.4 215.8 356.7C215.8 354.9 214.7 351.6 214.2 350.0C213.6 348.4 211.8 346.3 211.7 345.0C211.6 343.7 212.7 341.2 213.3 340.0C214.0 338.8 215.7 337.1 216.7 335.8C217.7 334.6 219.9 332.3 220.8 330.8C221.7 329.4 222.9 326.4 223.3 325.0C223.8 323.6 224.4 320.4 224.2 320.0C223.9 319.6 222.4 321.0 221.7 321.7C220.9 322.3 219.3 324.1 218.3 325.0C217.3 325.9 215.4 327.4 214.2 328.3C212.9 329.2 210.6 331.2 209.2 331.7C207.7 332.1 204.6 332.0 203.3 331.7C202.1 331.3 200.3 330.1 200.0 329.2C199.7 328.3 200.4 326.2 200.8 325.0C201.3 323.8 202.7 321.3 203.3 320.0C204.0 318.7 205.5 316.3 205.8 315.0C206.2 313.7 206.2 311.2 205.8 310.0C205.5 308.8 204.3 306.6 203.3 305.8C202.3 305.1 199.8 304.6 198.3 304.2C196.9 303.7 193.6 303.1 192.5 302.5C191.4 301.9 190.3 300.4 190.0 300.0C189.7 299.6 189.7 300.1 190.0 299.7C190.3 299.3 191.5 297.5 192.5 297.0C193.5 296.5 196.3 296.4 197.5 296.0C198.7 295.6 200.7 294.5 201.7 293.7C202.7 292.8 204.1 290.6 205.0 289.7C205.9 288.7 207.4 287.0 208.3 286.3C209.2 285.7 210.7 285.2 211.7 284.7C212.6 284.2 214.7 283.3 215.3 282.5C216.0 281.7 216.8 279.7 216.7 278.7C216.6 277.7 214.8 276.1 214.7 275.0C214.5 273.9 214.9 271.3 215.3 270.3C215.8 269.4 217.0 268.3 218.0 267.8C219.0 267.4 221.3 267.0 222.5 267.0C223.7 267.0 225.6 267.6 226.7 267.8C227.8 268.1 229.9 268.8 230.8 268.7C231.8 268.5 232.9 267.3 233.7 266.7C234.4 266.0 235.7 264.6 236.3 263.7C237.0 262.8 238.5 261.0 238.7 260.0C238.8 259.0 238.1 256.9 237.5 255.8C236.9 254.7 235.2 252.7 234.2 251.7C233.2 250.7 231.1 249.1 230.0 248.3C228.9 247.6 226.9 246.6 225.8 245.8C224.7 245.1 222.8 243.2 221.7 242.5C220.6 241.8 218.5 240.7 217.5 240.8C216.5 240.9 214.8 242.4 214.2 243.3C213.5 244.2 212.6 246.3 212.5 247.5C212.4 248.7 213.6 251.2 213.7 252.5C213.7 253.8 213.5 256.4 213.0 257.5C212.5 258.6 211.0 260.3 210.0 260.8C209.0 261.4 207.2 261.9 205.8 261.7C204.5 261.4 201.3 259.9 200.0 259.2C198.7 258.4 196.7 256.9 195.8 255.8C194.9 254.7 194.1 252.2 193.3 250.8C192.6 249.5 191.3 246.8 190.0 245.8C188.7 244.8 185.1 244.0 183.3 243.3C181.6 242.7 178.0 241.7 176.7 240.8C175.3 239.9 173.7 237.8 173.3 236.7C173.0 235.6 173.5 233.5 174.2 232.5C174.8 231.5 176.9 229.8 178.3 229.2C179.8 228.5 183.4 227.8 185.0 227.5C186.6 227.2 189.2 227.2 190.0 226.7C190.8 226.1 190.4 224.2 190.8 223.3C191.3 222.4 193.2 220.0 193.3 220.0C193.5 220.0 191.8 222.5 192.0 223.0C192.2 223.5 194.2 223.6 195.0 223.5C195.8 223.4 197.4 222.6 198.0 222.0C198.6 221.4 199.2 219.9 199.5 219.0C199.8 218.1 200.0 216.1 200.0 215.0C200.0 213.9 199.8 211.9 199.5 211.0C199.2 210.1 198.5 208.8 198.0 208.0C197.5 207.2 196.2 205.8 195.5 205.0C194.8 204.2 193.6 202.9 193.0 202.0C192.4 201.1 191.3 199.1 191.0 198.0C190.7 196.9 190.5 195.1 190.5 194.0C190.5 192.9 190.8 191.0 191.0 190.0C191.2 189.0 191.6 187.4 192.0 186.5C192.4 185.6 193.5 183.9 194.0 183.0C194.5 182.1 195.3 180.8 196.0 180.0C196.7 179.2 198.2 177.7 199.0 177.0C199.8 176.3 201.1 175.1 202.0 174.5C202.9 173.9 204.8 172.8 206.0 172.5C207.2 172.2 209.8 171.9 211.0 172.0C212.2 172.1 214.1 172.6 215.0 173.0C215.9 173.4 217.1 174.3 217.5 175.0C217.9 175.7 218.1 177.1 218.0 178.0C217.9 178.9 217.0 180.6 216.5 181.5C216.0 182.4 214.7 183.8 214.0 184.5C213.3 185.2 212.3 186.1 211.5 186.5C210.7 186.9 208.9 187.2 208.0 187.5C207.1 187.8 205.6 188.4 205.0 189.0C204.4 189.6 203.7 191.1 203.5 192.0C203.3 192.9 203.3 195.0 203.5 196.0C203.7 197.0 204.4 198.8 205.0 199.5C205.6 200.2 207.3 200.9 208.0 201.5C208.7 202.1 209.9 203.7 210.5 204.0C211.1 204.3 212.2 204.0 212.5 203.5C212.8 203.0 212.8 200.9 213.0 200.0C213.2 199.1 213.5 197.7 214.0 197.0C214.5 196.3 215.7 195.5 216.5 195.0C217.3 194.5 219.1 193.8 220.0 193.5C220.9 193.2 222.8 192.9 223.5 193.0C224.2 193.1 225.1 194.0 225.5 194.5C225.9 195.0 226.4 196.3 226.5 197.0C226.6 197.7 225.9 199.0 226.0 199.5C226.1 200.0 227.0 200.6 227.5 200.5C228.0 200.4 229.3 199.5 230.0 199.0C230.7 198.5 232.2 197.5 233.0 197.0C233.8 196.5 235.3 195.5 236.0 195.0C236.7 194.5 237.6 193.7 238.0 193.0C238.4 192.3 238.8 191.1 239.0 190.0C239.2 188.9 239.4 186.3 239.5 185.0C239.6 183.7 240.0 181.3 240.0 180.0C240.0 178.7 239.9 176.3 239.8 175.0C239.7 173.7 239.6 171.3 239.5 170.0C239.4 168.7 239.1 167.0 239.0 165.0C238.9 163.0 238.6 157.4 238.7 155.0C238.7 152.6 238.8 148.3 239.2 146.7C239.6 145.0 241.0 143.4 241.7 142.5Z" fill="#18a0f5"/>
<path d="M170.0 210.0C170.1 207.9 171.4 205.6 172.5 204.2C173.6 202.8 175.1 202.1 176.7 201.7C178.2 201.3 180.0 201.4 181.7 201.7C183.3 201.9 185.3 202.6 186.7 203.3C188.0 204.1 188.7 205.4 189.7 206.3C190.6 207.3 192.1 208.0 192.5 209.2C192.9 210.3 192.5 211.9 192.0 213.3C191.5 214.7 190.4 216.2 189.7 217.5C188.9 218.8 188.3 220.0 187.5 220.8C186.7 221.7 186.2 222.1 185.0 222.5C183.8 222.9 181.7 223.5 180.0 223.3C178.3 223.2 176.4 222.8 175.0 221.7C173.6 220.6 172.5 218.6 171.7 216.7C170.8 214.7 169.9 212.1 170.0 210.0Z" fill="#18a0f5"/>
<path d="M173.3 280.8C173.7 279.6 174.7 278.3 175.8 277.5C176.9 276.7 178.5 276.0 180.0 275.8C181.5 275.7 183.5 276.1 185.0 276.7C186.5 277.2 188.1 278.1 189.2 279.2C190.3 280.3 191.1 281.9 191.7 283.3C192.2 284.7 192.8 286.2 192.5 287.5C192.2 288.8 191.2 290.0 190.0 290.8C188.8 291.7 186.7 292.4 185.0 292.5C183.3 292.6 181.5 292.4 180.0 291.7C178.5 291.0 176.9 289.4 175.8 288.3C174.8 287.2 174.1 286.2 173.7 285.0C173.2 283.8 173.0 282.1 173.3 280.8Z" fill="#18a0f5"/>
<path d="M180.8 265.8C181.4 265.3 183.8 264.7 185.0 265.0C186.2 265.3 187.2 266.7 188.3 267.5C189.4 268.3 190.8 268.9 191.7 270.0C192.5 271.1 193.5 273.2 193.3 274.2C193.2 275.1 191.7 276.0 190.8 275.8C190.0 275.7 189.3 274.3 188.3 273.3C187.4 272.4 186.2 270.9 185.0 270.0C183.8 269.1 182.0 268.7 181.3 268.0C180.6 267.3 180.2 266.3 180.8 265.8Z" fill="#18a0f5"/>
<path d="M195.0 275.8C195.6 275.3 197.6 274.7 198.3 275.0C199.1 275.3 199.9 276.8 199.7 277.5C199.4 278.2 197.8 279.1 197.0 279.2C196.2 279.2 195.3 278.6 195.0 278.0C194.7 277.4 194.4 276.3 195.0 275.8Z" fill="#18a0f5"/>
<path d="M125.0 327.5C126.3 326.2 130.4 325.0 132.5 323.8C134.6 322.5 135.8 321.5 137.5 320.0C139.2 318.5 140.4 316.0 142.5 315.0C144.6 314.0 147.9 313.3 150.0 313.8C152.1 314.2 153.8 315.6 155.0 317.5C156.2 319.4 156.0 322.9 157.5 325.0C159.0 327.1 162.3 328.3 163.8 330.0C165.2 331.7 166.5 333.3 166.2 335.0C166.0 336.7 164.0 338.8 162.5 340.0C161.0 341.2 157.9 341.5 157.5 342.5C157.1 343.5 160.4 345.4 160.0 346.2C159.6 347.1 157.1 347.7 155.0 347.5C152.9 347.3 150.0 345.8 147.5 345.0C145.0 344.2 142.3 343.8 140.0 342.5C137.7 341.2 135.8 338.8 133.8 337.5C131.7 336.2 129.0 336.0 127.5 335.0C126.0 334.0 124.9 332.5 124.5 331.2C124.1 330.0 123.7 328.8 125.0 327.5Z" fill="#18a0f5"/>
<path d="M225.0 158.3C225.4 157.8 227.1 157.8 227.5 158.3C227.9 158.9 227.9 161.1 227.5 161.7C227.1 162.2 225.4 162.2 225.0 161.7C224.6 161.1 224.6 158.9 225.0 158.3Z" fill="#18a0f5"/>
<path d="M205.8 232.5C206.4 231.9 208.3 231.0 210.0 230.8C211.7 230.7 214.2 231.1 215.8 231.7C217.5 232.2 219.0 233.2 220.0 234.2C221.0 235.1 221.8 236.8 221.7 237.5C221.5 238.2 220.3 238.5 219.2 238.3C218.1 238.2 216.5 237.2 215.0 236.7C213.5 236.2 211.4 235.7 210.0 235.3C208.6 235.0 207.4 235.1 206.7 234.7C206.0 234.2 205.3 233.1 205.8 232.5Z" fill="#9dd3f0"/>
<path d="M230.8 320.0C231.0 319.2 231.8 317.4 232.5 316.7C233.2 316.0 234.7 315.6 235.3 315.8C236.0 316.1 236.5 317.5 236.3 318.3C236.1 319.2 234.9 320.3 234.2 320.8C233.4 321.4 232.2 321.8 231.7 321.7C231.1 321.5 230.7 320.8 230.8 320.0Z" fill="#9dd3f0"/>
<path d="M175.8 208.3C176.3 207.1 177.2 205.7 178.3 205.0C179.4 204.3 181.4 203.9 182.5 204.2C183.6 204.4 184.4 205.6 185.0 206.7C185.6 207.8 186.0 209.6 185.8 210.8C185.7 212.1 185.0 213.3 184.2 214.2C183.3 215.0 181.9 215.7 180.8 215.8C179.7 216.0 178.4 215.6 177.5 215.0C176.6 214.4 175.8 213.6 175.5 212.5C175.2 211.4 175.4 209.6 175.8 208.3Z" fill="#3250e0"/>
<path d="M245.0 188.5C245.7 188.8 247.1 190.5 247.5 192.0C247.9 193.5 248.1 197.6 248.0 200.0C247.9 202.4 247.1 207.6 247.0 210.0C246.9 212.4 247.2 216.0 247.5 218.0C247.8 220.0 248.8 223.2 249.0 225.0C249.2 226.8 249.3 229.9 249.2 231.7C249.1 233.5 248.2 236.5 248.3 238.3C248.4 240.1 249.4 243.2 250.0 245.0C250.6 246.8 252.0 249.9 252.5 251.7C253.0 253.5 253.5 256.5 253.7 258.3C253.9 260.1 254.3 263.2 254.2 265.0C254.1 266.8 253.6 269.9 253.3 271.7C253.0 273.5 252.1 276.6 251.7 278.3C251.3 280.0 250.7 282.9 250.0 284.2C249.3 285.5 247.7 287.3 246.7 288.3C245.7 289.3 243.6 290.7 242.5 291.7C241.4 292.7 239.4 294.9 238.3 295.8C237.2 296.7 235.3 298.4 234.2 298.3C233.1 298.2 230.7 296.0 230.0 295.0C229.3 294.0 229.0 291.8 229.2 290.8C229.4 289.8 230.8 288.4 231.7 287.5C232.6 286.6 234.7 285.1 235.8 284.2C236.9 283.3 239.1 281.8 240.0 280.8C240.9 279.8 241.9 277.9 242.5 276.7C243.1 275.5 243.8 273.2 244.2 271.7C244.6 270.2 245.2 267.5 245.3 265.8C245.4 264.1 245.4 260.9 245.0 259.2C244.6 257.5 243.4 254.6 242.5 253.3C241.6 252.0 239.5 250.1 238.3 249.2C237.1 248.3 234.4 247.4 233.3 246.7C232.2 246.0 230.1 245.1 230.0 244.2C229.9 243.3 231.8 241.2 232.5 240.0C233.2 238.8 234.5 236.5 235.0 235.0C235.5 233.5 236.4 230.7 236.5 229.0C236.6 227.3 235.6 224.0 235.5 222.0C235.4 220.0 235.3 216.3 235.5 214.0C235.7 211.7 236.5 207.4 237.0 205.0C237.5 202.6 238.8 198.0 239.5 196.0C240.2 194.0 241.8 191.0 242.5 190.0C243.2 189.0 244.3 188.2 245.0 188.5Z" fill="#3250e0"/>
<path d="M202.5 300.0C202.6 298.8 203.9 297.1 205.0 295.8C206.1 294.6 207.6 293.3 209.2 292.5C210.7 291.7 212.5 291.2 214.2 290.8C215.8 290.4 217.5 290.0 219.2 290.0C220.8 290.0 222.8 290.3 224.2 290.8C225.6 291.4 226.7 292.4 227.5 293.3C228.3 294.3 229.2 295.6 229.2 296.7C229.2 297.8 228.5 299.2 227.5 300.0C226.5 300.8 224.9 301.4 223.3 301.7C221.8 301.9 220.0 301.5 218.3 301.7C216.7 301.8 215.0 302.2 213.3 302.5C211.7 302.8 209.9 303.2 208.3 303.3C206.8 303.5 205.1 303.9 204.2 303.3C203.2 302.8 202.4 301.2 202.5 300.0Z" fill="#3250e0"/>
<path d="M207.5 316.7C208.1 315.1 209.0 312.9 210.0 311.7C211.0 310.4 212.1 309.7 213.3 309.2C214.6 308.6 216.5 308.1 217.5 308.3C218.5 308.6 219.2 309.7 219.2 310.8C219.2 311.9 218.3 313.6 217.5 315.0C216.7 316.4 215.4 318.1 214.2 319.2C212.9 320.3 211.2 321.4 210.0 321.7C208.8 321.9 207.1 321.7 206.7 320.8C206.2 320.0 206.9 318.2 207.5 316.7Z" fill="#3250e0"/>
<path d="M245.0 318.3C245.8 317.6 247.3 316.3 248.3 315.8C249.3 315.4 251.6 314.8 252.5 315.0C253.4 315.2 254.6 316.4 255.0 317.5C255.4 318.6 255.4 321.8 255.3 323.3C255.2 324.9 254.7 327.7 254.2 329.2C253.7 330.6 252.2 332.9 251.7 334.2C251.1 335.4 249.8 337.4 250.0 338.3C250.2 339.2 252.2 340.2 253.3 340.8C254.4 341.5 257.1 342.4 258.3 343.3C259.6 344.2 261.8 346.3 262.5 347.5C263.2 348.7 263.8 351.3 263.7 352.5C263.6 353.7 262.5 355.8 261.7 356.7C260.8 357.6 258.8 358.6 257.5 359.2C256.2 359.7 253.1 360.5 251.7 360.8C250.2 361.2 248.0 361.3 246.7 361.7C245.3 362.0 243.1 362.9 241.7 363.3C240.2 363.8 237.3 364.6 235.8 365.0C234.4 365.4 232.1 366.0 230.8 366.7C229.6 367.3 228.2 369.6 226.7 370.0C225.1 370.4 219.9 370.6 219.2 370.0C218.4 369.4 220.2 367.1 220.8 365.8C221.5 364.6 223.3 362.2 224.2 360.8C225.1 359.5 226.7 357.3 227.5 355.8C228.3 354.4 229.4 351.6 230.0 350.0C230.6 348.4 231.2 345.7 231.7 344.2C232.1 342.6 232.8 339.9 233.3 338.3C233.9 336.8 235.1 334.1 235.8 332.5C236.6 330.9 238.3 328.1 239.2 326.7C240.1 325.2 241.7 322.8 242.5 321.7C243.3 320.6 244.2 319.1 245.0 318.3Z" fill="#3250e0"/>
<path d="M195.8 247.5C196.2 246.7 198.2 246.4 199.2 246.7C200.1 246.9 201.5 248.3 201.7 249.2C201.8 250.0 200.8 251.3 200.0 251.7C199.2 252.0 197.4 252.0 196.7 251.3C196.0 250.6 195.4 248.3 195.8 247.5Z" fill="#3250e0"/>
<path d="M246.3 352.5C246.6 351.6 247.4 350.6 248.3 350.0C249.2 349.4 250.6 349.1 251.7 349.2C252.8 349.2 254.2 349.6 255.0 350.3C255.8 351.0 256.5 352.3 256.3 353.3C256.2 354.3 255.2 355.7 254.2 356.3C253.1 356.9 251.2 357.2 250.0 357.0C248.8 356.8 247.6 356.1 247.0 355.3C246.4 354.6 246.1 353.4 246.3 352.5Z" fill="#8020f0"/>
<path d="M230.0 361.3C230.5 361.0 232.4 360.8 233.3 360.8C234.2 360.9 235.3 361.3 235.3 361.7C235.3 362.0 234.2 362.8 233.3 363.0C232.5 363.2 230.9 362.9 230.3 362.7C229.8 362.4 229.5 361.6 230.0 361.3Z" fill="#8020f0"/>
</g>
<path d="M320.0 350.0C320.1 349.6 320.6 345.6 321.0 345.0C321.4 344.4 324.4 342.4 325.0 342.0C325.6 341.6 328.5 339.6 329.0 339.0C329.5 338.4 332.0 334.8 332.4 334.0C332.8 333.2 334.0 328.9 334.0 328.0C334.0 327.1 333.2 322.9 333.0 322.0C332.8 321.1 331.4 316.9 331.0 316.0C330.6 315.1 328.6 310.6 328.0 310.0C327.4 309.4 323.8 307.9 323.0 308.0C322.2 308.1 317.7 310.3 317.0 311.0C316.3 311.7 313.4 316.9 313.0 318.0C312.6 319.1 312.2 324.9 312.0 326.0C311.8 327.1 310.1 332.0 310.0 333.0C309.9 334.0 310.6 338.3 311.0 339.0C311.4 339.7 314.3 342.5 315.0 343.0C315.7 343.5 319.6 345.5 320.0 346.0C320.4 346.5 320.0 349.7 320.0 350.0M331.0 316.0C331.2 315.7 333.5 312.6 334.0 312.0C334.5 311.4 337.6 308.7 338.0 308.0C338.4 307.3 339.8 302.6 340.0 302.0C340.2 301.4 340.9 300.1 341.0 300.0M323.0 308.0C323.2 307.7 325.9 304.6 326.0 304.0C326.1 303.4 325.1 300.3 325.0 300.0M280.0 326.0C280.4 325.8 285.1 323.5 286.0 323.0C286.9 322.5 291.2 319.1 292.0 319.0C292.8 318.9 296.4 320.5 297.0 321.0C297.6 321.5 299.6 325.9 300.0 326.0C300.4 326.1 302.0 322.7 302.0 322.0C302.0 321.3 300.4 316.7 300.0 316.0C299.6 315.3 296.6 312.6 296.0 312.0C295.4 311.4 292.4 308.7 292.0 308.0C291.6 307.3 291.0 303.6 291.0 303.0C291.0 302.4 291.9 300.2 292.0 300.0M300.0 326.0C300.3 326.4 303.3 331.2 304.0 332.0C304.7 332.8 309.2 336.2 310.0 337.0C310.8 337.8 314.6 342.6 315.0 343.0M320.0 350.0C319.7 350.6 316.4 357.0 316.0 358.0C315.6 359.0 314.7 362.4 314.0 363.0C313.3 363.6 307.7 365.6 307.0 366.0C306.3 366.4 304.5 368.9 304.0 369.0C303.5 369.1 300.4 368.4 300.0 368.0C299.6 367.6 298.6 364.5 298.0 364.0C297.4 363.5 292.9 361.1 292.0 361.0C291.1 360.9 286.7 361.6 286.0 362.0C285.3 362.4 282.4 365.3 282.0 366.0C281.6 366.7 281.0 371.0 281.0 372.0C281.0 373.0 282.1 379.0 282.0 380.0C281.9 381.0 280.1 385.6 280.0 386.0M314.0 363.0C314.4 363.3 319.0 366.3 320.0 367.0C321.0 367.7 326.8 371.3 328.0 372.0C329.2 372.7 335.1 375.6 336.0 376.0C336.9 376.4 339.9 377.4 340.0 378.0C340.1 378.6 338.0 383.1 338.0 384.0C338.0 384.9 339.4 389.3 340.0 390.0C340.6 390.7 345.3 393.3 346.0 394.0C346.7 394.7 349.6 399.1 350.0 400.0C350.4 400.9 351.6 405.1 352.0 406.0C352.4 406.9 355.4 411.0 356.0 412.0C356.6 413.0 359.7 419.4 360.0 420.0M320.0 350.0C320.4 350.3 325.1 353.4 326.0 354.0C326.9 354.6 331.1 357.6 332.0 358.0C332.9 358.4 337.5 359.4 338.0 360.0C338.5 360.6 338.8 365.2 339.0 366.0C339.2 366.8 340.3 370.7 341.0 371.0C341.7 371.3 347.1 370.1 348.0 370.0C348.9 369.9 352.7 369.4 353.0 369.0C353.3 368.6 352.3 364.7 352.0 364.0C351.7 363.3 349.0 359.5 349.0 359.0C349.0 358.5 351.3 357.1 352.0 357.0C352.7 356.9 357.3 358.2 358.0 358.0C358.7 357.8 361.7 354.9 362.0 354.0C362.3 353.1 361.8 347.0 362.0 346.0C362.2 345.0 364.5 340.7 365.0 340.0C365.5 339.3 368.7 337.2 369.0 337.0M369.0 337.0C369.4 337.1 373.2 337.6 374.0 338.0C374.8 338.4 379.3 342.3 380.0 343.0C380.7 343.7 383.3 346.5 384.0 347.0C384.7 347.5 388.3 349.9 389.0 350.0C389.7 350.1 393.5 348.5 394.0 348.0C394.5 347.5 396.0 343.7 396.0 343.0C396.0 342.3 393.9 338.7 394.0 338.0C394.1 337.3 397.1 333.5 397.0 333.0C396.9 332.5 392.8 330.9 392.0 331.0C391.2 331.1 386.6 333.4 386.0 334.0C385.4 334.6 384.2 338.3 384.0 339.0C383.8 339.7 383.1 342.7 383.0 343.0M362.0 358.0C362.3 358.6 365.3 364.9 366.0 366.0C366.7 367.1 370.3 372.0 371.0 373.0C371.7 374.0 374.6 378.0 375.0 379.0C375.4 380.0 375.5 385.2 376.0 386.0C376.5 386.8 381.1 389.4 382.0 390.0C382.9 390.6 387.1 393.3 388.0 394.0C388.9 394.7 393.3 399.1 394.0 400.0C394.7 400.9 397.6 405.3 398.0 406.0C398.4 406.7 399.9 408.8 400.0 409.0M332.4 334.0C332.8 333.7 337.0 330.1 338.0 330.0C339.0 329.9 344.8 331.5 346.0 332.0C347.2 332.5 353.0 336.3 354.0 337.0C355.0 337.7 359.4 341.3 360.0 342.0C360.6 342.7 361.9 345.7 362.0 346.0M300.0 368.0C300.1 368.5 301.0 374.0 301.0 375.0C301.0 376.0 300.4 381.0 300.0 382.0C299.6 383.0 296.6 387.4 296.0 388.0C295.4 388.6 292.1 389.4 292.0 390.0C291.9 390.6 293.8 395.0 294.0 396.0C294.2 397.0 294.6 403.0 295.0 404.0C295.4 405.0 298.5 409.1 299.0 410.0C299.5 410.9 301.6 415.3 302.0 416.0C302.4 416.7 303.9 419.7 304.0 420.0M340.0 312.0C340.3 311.9 343.4 311.3 344.0 311.0C344.6 310.7 347.6 308.7 348.0 308.0C348.4 307.3 348.6 302.7 349.0 302.0C349.4 301.3 353.3 298.9 354.0 299.0C354.7 299.1 357.3 302.4 358.0 303.0C358.7 303.6 363.1 306.5 364.0 307.0C364.9 307.5 369.3 310.1 370.0 310.0C370.7 309.9 372.6 306.7 373.0 306.0C373.4 305.3 375.0 301.7 375.0 301.0C375.0 300.3 373.1 297.3 373.0 297.0M382.0 344.0C382.2 343.7 384.7 340.7 385.0 340.0C385.3 339.3 385.6 335.6 386.0 335.0C386.4 334.4 390.1 332.3 391.0 332.0C391.9 331.7 396.9 330.9 398.0 331.0C399.1 331.1 404.8 332.8 406.0 333.0C407.2 333.2 413.0 334.4 414.0 334.0C415.0 333.6 419.2 328.8 420.0 328.0C420.8 327.2 424.4 323.7 425.0 323.0C425.6 322.3 427.8 318.4 428.0 318.0M398.0 331.0C397.8 331.4 395.4 336.1 395.0 337.0C394.6 337.9 392.9 342.3 393.0 343.0C393.1 343.7 395.9 346.3 396.0 347.0C396.1 347.7 394.2 351.0 394.0 352.0C393.8 353.0 393.0 358.8 393.0 360.0C393.0 361.2 393.6 367.2 394.0 368.0C394.4 368.8 397.3 370.7 398.0 371.0C398.7 371.3 403.1 371.8 404.0 372.0C404.9 372.2 408.8 373.6 410.0 374.0C411.2 374.4 418.7 376.6 420.0 377.0C421.3 377.4 427.4 379.8 428.0 380.0M261.2 191.2C261.6 191.0 265.4 188.1 266.2 187.5C267.1 186.9 271.9 183.8 272.5 183.8C273.1 183.8 274.3 187.0 275.0 187.5C275.7 188.0 281.0 189.7 282.5 190.0C284.0 190.3 293.8 191.5 295.0 191.2C296.2 191.0 299.2 186.6 299.5 186.2M281.2 190.5C281.2 191.0 280.5 196.4 280.0 197.5C279.5 198.6 275.5 203.9 275.0 205.0C274.5 206.1 274.2 211.7 273.8 212.5C273.3 213.3 269.2 215.7 268.8 216.2C268.3 216.8 267.6 219.7 267.5 220.0M271.2 238.8C271.5 238.5 274.0 235.5 275.0 235.0C276.0 234.5 283.7 233.0 285.0 232.5C286.3 232.0 291.9 229.4 292.5 228.8C293.1 228.1 293.3 224.0 293.8 223.8C294.2 223.5 298.3 224.4 298.8 225.0C299.2 225.6 299.5 231.8 300.0 232.5C300.5 233.2 304.5 234.4 305.0 235.0C305.5 235.6 306.2 239.6 306.2 240.0M271.2 238.8C271.3 239.6 272.6 248.4 272.5 250.0C272.4 251.6 270.0 258.9 270.0 260.0C270.0 261.1 272.7 263.9 272.5 265.0C272.3 266.1 267.9 274.3 267.5 275.0M292.5 242.5C292.1 243.1 288.1 248.7 287.5 250.0C286.9 251.3 285.1 258.7 285.0 260.0C284.9 261.3 286.4 266.4 286.2 267.5C286.1 268.6 282.8 274.4 282.5 275.0M253.8 145.0C253.9 145.9 255.8 155.7 256.2 157.5C256.7 159.3 259.6 168.2 260.0 170.0C260.4 171.8 261.2 180.9 261.2 182.5C261.3 184.1 261.5 190.2 261.2 191.2C261.0 192.3 257.9 196.1 257.5 197.5C257.1 198.9 256.0 208.3 256.2 210.0C256.5 211.7 260.8 218.5 261.2 220.0C261.7 221.5 262.0 228.7 262.5 230.0C263.0 231.3 266.9 236.9 267.5 237.5C268.1 238.1 271.0 238.7 271.2 238.8M215.0 147.5C215.2 148.1 217.5 153.9 217.5 155.0C217.5 156.1 214.8 161.6 215.0 162.5C215.2 163.4 219.1 167.0 220.0 167.5C220.9 168.0 226.5 168.9 227.5 168.8C228.5 168.6 233.0 165.8 233.8 165.0C234.5 164.2 237.4 158.6 237.5 157.5C237.6 156.4 235.0 151.3 235.0 150.0C235.0 148.7 237.3 140.7 237.5 140.0M237.5 157.5C238.0 157.7 242.8 159.9 243.8 160.0C244.7 160.1 249.3 158.8 250.0 158.8C250.7 158.8 253.5 159.9 253.8 160.0M233.8 165.0C234.0 165.6 236.7 171.8 237.5 172.5C238.3 173.2 243.9 174.9 245.0 175.0C246.1 175.1 251.9 173.8 252.5 173.8M215.0 162.5C214.4 162.9 208.6 166.9 207.5 167.5C206.4 168.1 200.6 169.8 200.0 170.0M220.0 167.5C220.2 168.1 222.7 173.9 222.5 175.0C222.3 176.1 217.5 181.5 217.5 182.5C217.5 183.5 221.4 188.1 222.5 188.8C223.6 189.4 231.4 191.2 232.5 191.2C233.6 191.3 236.6 189.9 237.5 190.0C238.4 190.1 243.8 192.4 245.0 192.5C246.2 192.6 253.1 191.3 253.8 191.2M200.0 202.5C200.6 202.3 206.4 199.8 207.5 200.0C208.6 200.2 214.5 204.1 215.0 205.0C215.5 205.9 213.6 211.4 213.8 212.5C213.9 213.6 216.7 219.3 217.5 220.0C218.3 220.7 223.9 222.5 225.0 222.5C226.1 222.5 231.6 219.8 232.5 220.0C233.4 220.2 237.1 224.6 237.5 225.0M215.0 205.0C215.7 204.8 223.5 202.5 225.0 202.5C226.5 202.5 233.9 205.2 235.0 205.0C236.1 204.8 239.8 200.9 240.0 200.0C240.2 199.1 237.7 193.1 237.5 192.5M225.0 222.5C225.1 223.1 226.4 228.9 226.2 230.0C226.1 231.1 222.6 236.4 222.5 237.5C222.4 238.6 224.3 244.3 225.0 245.0C225.7 245.7 231.6 247.7 232.5 247.5C233.4 247.3 236.4 242.7 237.5 242.5C238.6 242.3 246.3 245.0 247.5 245.0C248.7 245.0 253.3 242.7 253.8 242.5M200.0 245.0C200.6 244.8 206.4 242.5 207.5 242.5C208.6 242.5 213.9 245.4 215.0 245.0C216.1 244.6 221.9 238.1 222.5 237.5M111.2 276.2C111.4 275.8 112.9 270.6 113.8 270.0C114.6 269.4 121.3 268.7 122.5 268.8C123.7 268.8 128.9 271.2 130.0 271.2C131.1 271.3 136.4 269.8 137.5 270.0C138.6 270.2 143.9 273.7 145.0 273.8C146.1 273.8 151.8 271.0 152.5 271.2C153.2 271.5 155.2 276.5 155.0 277.5C154.8 278.5 150.7 283.9 150.0 285.0C149.3 286.1 145.2 291.5 145.0 292.5C144.8 293.5 147.9 298.0 147.5 298.8C147.1 299.5 141.1 302.3 140.0 302.5C138.9 302.7 133.6 301.2 132.5 301.2C131.4 301.3 125.9 303.8 125.0 303.8C124.1 303.7 120.9 300.5 120.0 300.0C119.1 299.5 113.2 298.2 112.5 297.5C111.8 296.8 110.1 291.1 110.0 290.0C109.9 288.9 111.2 283.5 111.2 282.5C111.3 281.5 111.2 276.7 111.2 276.2M125.0 303.8C124.9 304.2 124.0 309.0 123.8 310.0C123.5 311.0 121.2 316.6 121.2 317.5C121.3 318.4 125.1 321.7 125.0 322.5C124.9 323.3 120.3 327.8 120.0 328.8C119.7 329.7 120.9 334.2 121.2 335.0C121.6 335.8 124.7 339.6 125.0 340.0M147.5 298.8C148.1 299.1 153.9 303.1 155.0 303.8C156.1 304.4 161.6 306.9 162.5 307.5C163.4 308.1 167.4 311.7 167.5 312.5C167.6 313.3 164.5 318.0 163.8 318.8C163.0 319.5 158.5 322.3 157.5 322.5C156.5 322.7 151.1 321.2 150.0 321.2C148.9 321.3 143.4 323.8 142.5 323.8C141.6 323.7 138.2 320.8 137.5 320.0C136.8 319.2 132.9 313.9 132.5 312.5C132.1 311.1 132.5 302.1 132.5 301.2M167.5 312.5C168.1 312.3 173.9 309.9 175.0 310.0C176.1 310.1 181.7 313.0 182.5 313.8C183.3 314.5 186.1 319.0 186.2 320.0C186.4 321.0 185.5 326.6 185.0 327.5C184.5 328.4 180.2 331.6 180.0 332.5C179.8 333.4 182.7 339.1 182.5 340.0C182.3 340.9 178.4 344.4 177.5 345.0C176.6 345.6 171.1 347.5 170.0 347.5C168.9 347.5 163.4 345.6 162.5 345.0C161.6 344.4 157.7 340.9 157.5 340.0C157.3 339.1 160.0 333.8 160.0 332.5C160.0 331.2 157.7 323.2 157.5 322.5M125.0 340.0C125.5 340.2 131.4 342.5 132.5 342.5C133.6 342.5 138.9 339.8 140.0 340.0C141.1 340.2 146.4 344.4 147.5 345.0C148.6 345.6 154.3 347.9 155.0 347.5C155.7 347.1 157.3 340.6 157.5 340.0M140.0 340.0C139.9 340.6 138.6 346.5 138.8 347.5C138.9 348.5 141.7 353.2 142.5 353.8C143.3 354.3 149.1 355.5 150.0 355.0C150.9 354.5 154.6 348.1 155.0 347.5M120.0 350.0C120.5 350.1 126.4 350.9 127.5 351.2C128.6 351.6 133.9 354.8 135.0 355.0C136.1 355.2 141.9 353.8 142.5 353.8M120.0 350.0C119.9 350.7 118.6 358.7 118.8 360.0C118.9 361.3 121.7 366.8 122.5 367.5C123.3 368.2 129.1 370.2 130.0 370.0C130.9 369.8 134.5 365.8 135.0 365.0C135.5 364.2 135.7 359.6 136.2 358.8C136.8 357.9 142.0 354.1 142.5 353.8M122.5 367.5C122.4 368.1 121.1 373.9 121.2 375.0C121.4 376.1 124.2 381.8 125.0 382.5C125.8 383.2 131.4 385.0 132.5 385.0C133.6 385.0 139.1 383.1 140.0 382.5C140.9 381.9 144.5 378.4 145.0 377.5C145.5 376.6 145.9 371.0 146.2 370.0C146.6 369.0 150.1 364.5 150.0 363.8C149.9 363.0 146.0 360.4 145.0 360.0C144.0 359.6 136.9 358.8 136.2 358.8M132.5 385.0C132.6 385.6 133.2 391.7 133.8 392.5C134.3 393.3 139.5 396.0 140.0 396.2M145.0 377.5C145.4 377.9 149.1 381.9 150.0 382.5C150.9 383.1 156.8 384.3 157.5 385.0C158.2 385.7 160.0 391.4 160.0 392.5C160.0 393.6 157.4 398.7 157.5 400.0C157.6 401.3 161.0 409.3 161.2 410.0M68.8 313.8C69.2 314.1 73.8 318.3 75.0 318.8C76.2 319.2 83.8 319.5 85.0 320.0C86.2 320.5 90.5 324.1 91.2 325.0C92.0 325.9 94.4 331.8 95.0 332.5C95.6 333.2 99.6 334.8 100.0 335.0M96.2 311.2C96.5 311.7 99.2 316.8 100.0 317.5C100.8 318.2 106.4 321.1 107.5 321.2C108.6 321.4 114.2 319.7 115.0 320.0C115.8 320.3 118.7 324.1 118.8 325.0C118.8 325.9 116.1 331.8 115.5 332.5C114.9 333.2 111.1 334.8 110.0 335.0C108.9 335.2 100.8 334.3 100.0 335.0C99.2 335.7 98.8 344.3 98.8 345.0M115.5 332.5C115.8 332.9 119.6 336.6 120.0 337.5C120.4 338.4 121.3 344.1 121.2 345.0C121.2 345.9 118.9 349.6 118.8 350.0M97.5 270.0C98.0 270.2 102.9 272.4 103.8 272.5C104.6 272.6 108.2 271.0 108.8 271.2C109.3 271.5 111.1 275.9 111.2 276.2M95.0 290.0C95.5 290.1 100.4 290.9 101.2 291.2C102.1 291.6 105.4 294.5 106.2 295.0C107.1 295.5 112.0 297.3 112.5 297.5M161.2 157.5C161.7 157.9 166.5 161.9 167.5 162.5C168.5 163.1 173.9 166.1 175.0 166.2C176.1 166.4 181.5 164.8 182.5 165.0C183.5 165.2 188.2 167.9 188.8 168.8C189.3 169.6 189.5 175.5 190.0 176.2C190.5 177.0 194.3 178.7 195.0 178.8C195.7 178.8 199.6 177.6 200.0 177.5M182.5 146.2C182.8 146.9 185.7 154.0 186.2 155.0C186.8 156.0 189.8 159.0 190.0 160.0C190.2 161.0 188.8 168.1 188.8 168.8M158.8 171.2C159.2 171.5 164.3 174.2 165.0 175.0C165.7 175.8 168.3 181.3 168.8 182.5C169.2 183.7 171.3 190.2 171.2 191.2C171.2 192.3 168.1 196.9 167.5 197.5C166.9 198.1 163.1 199.3 162.5 200.0C161.9 200.7 160.6 206.7 160.0 207.5C159.4 208.3 156.1 210.9 155.0 211.2C153.9 211.6 145.9 212.0 145.0 212.5C144.1 213.0 143.2 216.9 142.5 217.5C141.8 218.1 136.1 220.0 135.0 220.0C133.9 220.0 128.4 217.5 127.5 217.5C126.6 217.5 122.9 219.8 122.5 220.0M171.2 191.2C171.7 191.3 176.5 192.6 177.5 192.5C178.5 192.4 184.1 189.9 185.0 190.0C185.9 190.1 189.4 193.0 190.0 193.8C190.6 194.5 192.5 199.0 192.5 200.0C192.5 201.0 189.9 206.6 190.0 207.5C190.1 208.4 193.8 211.6 193.8 212.5C193.8 213.4 190.6 219.2 190.0 220.0C189.4 220.8 185.3 223.1 185.0 223.8C184.7 224.4 186.6 228.3 186.2 228.8C185.9 229.2 180.5 229.9 180.0 230.0M142.5 217.5C142.9 217.9 146.9 221.6 147.5 222.5C148.1 223.4 149.4 229.3 150.0 230.0C150.6 230.7 154.3 232.5 155.0 232.5C155.7 232.5 159.4 229.8 160.0 230.0C160.6 230.2 162.5 234.1 162.5 235.0C162.5 235.9 159.8 241.6 160.0 242.5C160.2 243.4 164.7 246.6 165.0 247.5C165.3 248.4 164.1 254.1 163.8 255.0C163.4 255.9 160.1 259.3 160.0 260.0C159.9 260.7 162.7 264.4 162.5 265.0C162.3 265.6 158.4 268.6 157.5 268.8C156.6 268.9 150.9 267.3 150.0 267.5C149.1 267.7 145.9 271.2 145.0 271.2C144.1 271.3 138.4 268.8 137.5 268.8C136.6 268.8 133.4 271.2 132.5 271.2C131.6 271.2 125.9 268.7 125.0 268.8C124.1 268.8 120.4 272.2 120.0 272.5M160.0 230.0C160.4 229.6 164.1 225.2 165.0 225.0C165.9 224.8 171.4 227.1 172.5 227.5C173.6 227.9 179.6 229.3 180.0 230.0C180.4 230.7 178.1 236.6 177.5 237.5C176.9 238.4 173.4 241.8 172.5 242.5C171.6 243.2 165.6 247.1 165.0 247.5M115.5 247.5C116.0 247.7 121.8 249.3 122.5 250.0C123.2 250.7 125.0 256.4 125.0 257.5C125.0 258.6 123.2 264.2 122.5 265.0C121.8 265.8 115.7 268.0 115.0 268.8C114.3 269.5 112.7 274.5 112.5 275.0M122.5 265.0C123.0 265.2 129.3 267.0 130.0 267.5C130.7 268.0 132.1 270.7 132.5 271.2C132.9 271.8 134.8 274.7 135.0 275.0M190.0 183.0C190.2 182.9 192.6 182.1 193.0 182.0C193.4 181.9 195.5 181.1 196.0 181.0C196.5 180.9 199.5 179.9 200.0 180.0C200.5 180.1 202.6 181.6 203.0 182.0C203.4 182.4 204.6 184.7 205.0 185.0C205.4 185.3 207.6 186.2 208.0 186.5C208.4 186.8 210.1 188.9 210.5 189.0C210.9 189.1 212.7 188.2 213.0 188.0C213.3 187.8 214.7 186.4 215.0 186.0C215.3 185.6 216.4 183.4 216.5 183.0C216.6 182.6 215.9 180.4 216.0 180.0C216.1 179.6 217.9 177.4 218.0 177.0C218.1 176.6 216.9 174.4 217.0 174.0C217.1 173.6 218.9 171.4 219.0 171.0C219.1 170.6 218.1 168.4 218.0 168.0C217.9 167.6 217.1 165.2 217.0 165.0M210.5 189.0C210.5 189.3 210.8 192.4 211.0 193.0C211.2 193.6 213.0 196.5 213.0 197.0C213.0 197.5 211.4 199.6 211.0 200.0C210.6 200.4 208.5 202.2 208.0 202.5C207.5 202.8 204.6 203.3 204.0 203.5C203.4 203.7 200.6 204.9 200.0 205.0C199.4 205.1 196.5 204.4 196.0 204.5C195.5 204.6 193.4 205.7 193.0 206.0C192.6 206.3 190.2 207.9 190.0 208.0M213.0 197.0C213.1 197.2 214.8 199.5 215.0 200.0C215.2 200.5 215.7 203.6 216.0 204.0C216.3 204.4 218.4 205.8 219.0 206.0C219.6 206.2 223.3 207.1 224.0 207.0C224.7 206.9 227.4 205.1 228.0 205.0C228.6 204.9 231.5 205.8 232.0 206.0C232.5 206.2 234.6 208.1 235.0 208.0C235.4 207.9 236.8 205.6 237.0 205.0C237.2 204.4 238.0 200.6 238.0 200.0C238.0 199.4 237.0 197.5 237.0 197.0C237.0 196.5 238.0 193.5 238.0 193.0C238.0 192.5 237.3 190.4 237.0 190.0C236.7 189.6 234.4 188.2 234.0 188.0C233.6 187.8 231.3 187.3 231.0 187.0C230.7 186.7 229.6 184.5 229.5 184.0C229.4 183.5 230.0 180.5 230.0 180.0C230.0 179.5 229.0 177.5 229.0 177.0C229.0 176.5 229.8 173.5 230.0 173.0C230.2 172.5 232.0 170.4 232.0 170.0C232.0 169.6 230.1 167.4 230.0 167.0C229.9 166.6 230.0 165.1 230.0 165.0M234.0 188.0C234.2 187.9 236.6 186.3 237.0 186.0C237.4 185.7 239.6 184.1 240.0 184.0C240.4 183.9 242.6 185.1 243.0 185.0C243.4 184.9 245.5 183.1 246.0 183.0C246.5 182.9 249.7 183.9 250.0 184.0M216.0 204.0C215.9 204.3 214.9 207.4 215.0 208.0C215.1 208.6 216.6 211.6 217.0 212.0C217.4 212.4 219.9 213.6 220.0 214.0C220.1 214.4 219.0 217.4 219.0 218.0C219.0 218.6 220.0 221.5 220.0 222.0C220.0 222.5 219.1 224.8 219.0 225.0M235.0 208.0C234.9 208.3 233.9 211.4 234.0 212.0C234.1 212.6 236.0 215.4 236.0 216.0C236.0 216.6 234.3 219.5 234.0 220.0C233.7 220.5 232.3 222.6 232.0 223.0C231.7 223.4 230.1 224.9 230.0 225.0M193.3 241.7C193.5 241.3 195.2 237.2 195.8 236.7C196.4 236.2 200.8 235.0 201.7 235.0C202.6 235.0 207.5 236.7 208.3 236.7C209.2 236.7 212.7 234.9 213.3 235.0C213.9 235.1 216.4 237.6 216.7 238.3C217.0 239.1 217.6 244.0 217.5 245.0C217.4 246.0 215.3 250.7 215.0 251.7C214.7 252.6 213.3 257.5 213.3 258.3C213.3 259.2 215.2 262.7 215.0 263.3C214.8 264.0 210.7 267.1 210.0 267.5C209.3 267.9 205.7 268.5 205.0 268.3C204.3 268.2 200.7 266.3 200.0 265.8C199.3 265.3 195.7 262.1 195.0 261.7C194.3 261.2 190.7 260.0 190.0 260.0C189.3 260.0 185.7 261.7 185.0 261.7C184.3 261.7 180.6 260.3 180.0 260.0C179.4 259.7 177.2 257.5 176.7 257.5C176.2 257.5 173.6 259.8 173.3 260.0M173.3 236.7C173.6 237.0 176.2 240.9 176.7 241.7C177.2 242.4 179.4 246.1 180.0 246.7C180.6 247.2 184.3 249.1 185.0 249.2C185.7 249.2 189.4 248.1 190.0 247.5C190.6 246.9 193.2 242.6 193.3 241.7C193.5 240.8 191.7 235.9 191.7 235.0C191.7 234.1 193.3 230.7 193.3 230.0C193.3 229.3 191.7 225.7 191.7 225.0C191.7 224.3 193.2 220.4 193.3 220.0M215.0 263.3C215.4 263.1 219.1 260.3 220.0 260.0C220.9 259.7 225.8 259.0 226.7 259.2C227.5 259.3 230.9 261.6 231.7 261.7C232.4 261.7 236.2 260.4 236.7 260.0C237.2 259.6 238.2 256.1 238.3 255.8M210.0 267.5C210.1 267.9 211.2 272.5 211.7 273.3C212.2 274.1 216.4 277.6 216.7 278.3C216.9 279.1 215.5 282.7 215.0 283.3C214.5 283.9 210.6 286.1 210.0 286.7C209.4 287.3 207.3 291.2 206.7 291.7C206.1 292.2 202.4 293.3 201.7 293.3C200.9 293.3 197.4 291.7 196.7 291.7C195.9 291.7 192.0 293.2 191.7 293.3M170.0 275.0C170.4 274.6 174.1 270.5 175.0 270.0C175.9 269.5 180.8 268.3 181.7 268.3C182.5 268.3 185.8 269.6 186.7 270.0C187.5 270.4 192.6 272.6 193.3 273.3C194.1 274.1 196.1 279.8 196.7 280.0C197.3 280.2 201.1 277.3 201.7 276.7C202.3 276.1 204.4 272.3 205.0 271.7C205.6 271.0 209.6 267.8 210.0 267.5M170.0 275.0C169.8 275.4 166.8 279.1 166.7 280.0C166.5 280.9 167.8 285.8 168.3 286.7C168.8 287.5 172.7 291.1 173.3 291.7C173.9 292.3 176.5 294.4 176.7 295.0C176.8 295.6 174.9 299.3 175.0 300.0C175.1 300.7 178.2 304.3 178.3 305.0C178.5 305.7 176.5 309.3 176.7 310.0C176.8 310.7 179.9 314.3 180.0 315.0C180.1 315.7 178.5 319.6 178.3 320.0M176.7 295.0C177.2 294.9 182.2 293.5 183.3 293.3C184.4 293.2 190.9 293.0 191.7 293.3C192.4 293.7 193.5 297.6 193.3 298.3C193.2 299.1 190.1 302.6 190.0 303.3C189.9 304.1 191.1 307.8 191.7 308.3C192.3 308.9 197.5 310.8 198.3 310.8C199.2 310.8 202.8 308.9 203.3 308.3C203.8 307.8 205.1 303.9 205.0 303.3C204.9 302.7 202.7 300.2 202.5 300.0M216.7 278.3C217.2 278.5 222.4 280.0 223.3 280.0C224.3 280.0 229.1 278.2 230.0 278.3C230.9 278.5 234.4 281.1 235.0 281.7C235.6 282.3 238.2 285.9 238.3 286.7C238.5 287.4 237.0 291.1 236.7 291.7C236.3 292.3 233.8 294.5 233.3 295.0C232.8 295.5 230.2 298.1 230.0 298.3M238.3 255.8C238.7 256.0 242.7 257.8 243.3 258.3C243.9 258.9 246.2 262.5 246.7 263.3C247.2 264.2 249.5 269.1 250.0 270.0C250.5 270.9 252.9 274.3 253.3 275.0C253.8 275.7 255.8 279.1 255.8 280.0C255.8 280.9 253.8 285.8 253.3 286.7C252.9 287.5 250.5 290.9 250.0 291.7C249.5 292.4 247.2 295.9 246.7 296.7C246.2 297.4 243.9 301.2 243.3 301.7C242.7 302.2 239.1 303.3 238.3 303.3C237.6 303.3 233.9 302.0 233.3 301.7C232.7 301.3 230.2 298.6 230.0 298.3M230.0 298.3C229.9 298.7 228.8 302.7 228.3 303.3C227.8 303.9 223.9 306.1 223.3 306.7C222.7 307.3 220.1 310.9 220.0 311.7C219.9 312.4 221.2 316.1 221.7 316.7C222.2 317.3 226.3 319.8 226.7 320.0M243.3 301.7C243.6 302.0 246.2 305.8 246.7 306.7C247.2 307.5 249.9 312.4 250.0 313.3C250.1 314.3 248.5 319.5 248.3 320.0M255.0 270.0C254.9 270.5 254.0 275.7 254.2 276.7C254.3 277.6 256.7 282.4 256.7 283.3C256.6 284.3 253.5 289.0 253.3 290.0C253.2 291.0 254.6 295.8 255.0 296.7C255.4 297.5 257.7 301.4 258.3 301.7C258.9 302.0 262.7 301.2 263.3 300.8C263.9 300.5 266.1 297.2 266.7 296.7C267.3 296.1 270.9 293.9 271.7 293.3C272.4 292.7 275.9 288.8 276.7 288.3C277.4 287.8 280.9 287.2 281.7 286.7C282.4 286.2 285.8 282.3 286.7 281.7C287.5 281.1 292.4 278.7 293.3 278.3C294.3 278.0 299.5 276.8 300.0 276.7M221.7 311.7C222.2 311.6 227.5 310.8 228.3 310.8C229.2 310.9 232.5 312.4 233.3 312.5C234.2 312.6 239.1 311.9 240.0 311.7C240.9 311.5 244.3 310.2 245.0 310.0C245.7 309.8 249.1 309.3 250.0 309.2C250.9 309.0 256.1 308.9 256.7 308.3C257.3 307.8 258.2 302.2 258.3 301.7M263.3 300.8C263.5 301.3 264.8 305.8 265.0 306.7C265.2 307.6 266.3 312.5 266.7 313.3C267.0 314.2 269.5 317.6 270.0 318.3C270.5 319.1 272.8 322.7 273.3 323.3C273.8 323.9 276.3 326.1 276.7 326.7C277.0 327.3 278.5 330.9 278.3 331.7C278.2 332.4 275.6 336.2 275.0 336.7C274.4 337.2 270.6 338.0 270.0 338.3C269.4 338.7 267.2 341.5 266.7 341.7C266.2 341.8 263.9 340.1 263.3 340.0C262.7 339.9 259.1 340.9 258.3 340.8C257.6 340.8 253.9 339.2 253.3 339.2C252.7 339.1 250.2 339.9 250.0 340.0M250.0 340.0C249.9 340.4 248.7 344.4 248.3 345.0C248.0 345.6 245.1 347.7 245.0 348.3C244.9 348.9 246.3 352.7 246.7 353.3C247.0 353.9 249.9 356.1 250.0 356.7C250.1 357.3 248.7 361.1 248.3 361.7C248.0 362.3 245.5 364.4 245.0 365.0C244.5 365.6 241.9 369.6 241.7 370.0M250.0 340.0C249.6 339.9 245.7 338.3 245.0 338.3C244.3 338.3 240.7 339.6 240.0 340.0C239.3 340.4 235.6 343.2 235.0 343.3C234.4 343.5 231.9 341.8 231.7 341.7M266.7 341.7C266.8 342.2 268.0 347.5 268.3 348.3C268.7 349.2 271.1 352.7 271.7 353.3C272.3 353.9 276.2 355.9 276.7 356.7C277.1 357.4 277.3 362.4 277.5 363.3C277.7 364.3 279.8 369.5 280.0 370.0M293.3 278.3C293.5 278.8 294.6 284.0 295.0 285.0C295.4 286.0 298.2 290.7 298.3 291.7C298.5 292.6 297.0 297.5 296.7 298.3C296.3 299.2 293.5 302.5 293.3 303.3C293.2 304.2 294.5 309.3 295.0 310.0C295.5 310.7 299.6 313.1 300.0 313.3M278.3 331.7C278.7 331.4 282.5 328.8 283.3 328.3C284.2 327.8 289.1 325.6 290.0 325.0C290.9 324.4 294.4 320.6 295.0 320.0C295.6 319.4 298.0 317.2 298.3 316.7C298.7 316.2 299.9 313.6 300.0 313.3M200.0 308.3C200.4 308.5 204.3 309.8 205.0 310.0C205.7 310.2 209.1 311.6 210.0 311.7C210.9 311.7 215.8 310.8 216.7 310.8C217.5 310.8 221.2 311.1 221.7 311.7C222.2 312.2 223.5 317.5 223.3 318.3C223.2 319.2 220.1 322.6 220.0 323.3C219.9 324.1 221.8 327.6 221.7 328.3C221.5 329.1 218.8 332.7 218.3 333.3C217.8 333.9 215.1 335.9 215.0 336.7C214.9 337.4 216.7 342.5 216.7 343.3C216.7 344.2 214.9 347.6 215.0 348.3C215.1 349.1 218.2 352.5 218.3 353.3C218.5 354.2 216.5 359.1 216.7 360.0C216.8 360.9 219.9 364.3 220.0 365.0C220.1 365.7 218.5 369.6 218.3 370.0M231.7 341.7C231.5 342.0 230.0 345.8 230.0 346.7C230.0 347.5 231.8 352.5 231.7 353.3C231.5 354.2 228.5 357.6 228.3 358.3C228.2 359.1 230.1 362.5 230.0 363.3C229.9 364.2 226.9 369.5 226.7 370.0M180.0 325.0C180.2 325.4 183.2 329.1 183.3 330.0C183.5 330.9 181.5 335.8 181.7 336.7C181.8 337.5 184.9 340.9 185.0 341.7C185.1 342.4 183.5 346.3 183.3 346.7M190.0 316.7C190.2 316.4 192.6 313.7 193.3 313.3C194.1 313.0 199.1 311.5 200.0 311.7C200.9 311.8 204.5 314.3 205.0 315.0C205.5 315.7 206.8 320.9 206.7 321.7C206.5 322.4 203.8 324.4 203.3 325.0C202.8 325.6 200.5 329.4 200.0 330.0C199.5 330.6 196.9 333.1 196.7 333.3M185.0 341.7C185.5 341.5 190.7 340.0 191.7 340.0C192.6 340.0 197.5 341.8 198.3 341.7C199.2 341.5 202.6 338.5 203.3 338.3C204.1 338.2 207.7 340.1 208.3 340.0C208.9 339.9 211.1 337.2 211.7 336.7C212.3 336.2 215.9 333.9 216.7 333.3C217.4 332.7 221.1 329.1 221.7 328.3C222.3 327.6 224.8 323.7 225.0 323.3M183.3 346.7C183.2 347.2 181.7 352.4 181.7 353.3C181.7 354.3 182.8 359.3 183.3 360.0C183.8 360.7 187.4 363.0 188.3 363.3C189.3 363.6 195.6 364.0 196.7 364.2C197.8 364.3 202.7 365.3 203.3 365.0C203.9 364.7 205.1 360.7 205.0 360.0C204.9 359.3 202.0 355.7 201.7 355.0C201.3 354.3 200.2 351.0 200.0 350.0C199.8 349.0 198.5 342.3 198.3 341.7M183.3 360.0C183.1 360.5 180.4 365.7 180.0 366.7C179.6 367.6 178.2 372.4 178.3 373.3C178.5 374.3 181.1 379.3 181.7 380.0C182.3 380.7 185.9 383.0 186.7 383.3C187.4 383.7 191.2 384.5 191.7 385.0C192.1 385.5 192.6 389.4 192.5 390.0C192.4 390.6 190.2 393.1 190.0 393.3M196.7 364.2C196.8 364.6 198.3 369.1 198.3 370.0C198.3 370.9 196.5 375.8 196.7 376.7C196.8 377.5 199.9 380.9 200.0 381.7C200.1 382.4 198.9 386.1 198.3 386.7C197.8 387.3 192.9 389.8 192.5 390.0M200.0 381.7C200.4 381.5 204.3 380.0 205.0 380.0C205.7 380.0 209.5 381.2 210.0 381.7C210.5 382.2 211.8 385.9 211.7 386.7C211.5 387.4 208.5 390.9 208.3 391.7C208.2 392.4 210.1 396.1 210.0 396.7C209.9 397.3 206.9 399.8 206.7 400.0M160.0 355.8C160.4 355.6 164.3 353.4 165.0 353.3C165.7 353.3 169.3 355.0 170.0 355.0C170.7 355.0 174.3 353.3 175.0 353.3C175.7 353.3 179.4 354.5 180.0 355.0C180.6 355.5 183.1 359.6 183.3 360.0M170.0 355.0C170.1 355.4 171.0 359.3 170.8 360.0C170.7 360.7 168.3 364.3 168.3 365.0C168.4 365.7 171.5 369.3 171.7 370.0C171.8 370.7 170.1 374.6 170.0 375.0M160.0 366.7C160.4 366.8 164.4 368.5 165.0 368.3C165.6 368.2 168.1 365.2 168.3 365.0M165.0 368.3C165.1 368.8 166.8 374.1 166.7 375.0C166.5 375.9 163.3 379.1 163.3 380.0C163.3 380.9 166.5 385.7 166.7 386.7C166.8 387.6 164.9 392.4 165.0 393.3C165.1 394.3 168.1 399.5 168.3 400.0M171.7 370.0C172.0 370.1 176.2 371.4 176.7 371.7C177.2 371.9 178.2 373.2 178.3 373.3M176.7 390.0C176.9 389.8 179.4 386.8 180.0 386.7C180.6 386.5 184.5 387.8 185.0 388.3C185.5 388.8 186.8 392.6 186.7 393.3C186.5 394.1 183.9 398.1 183.3 398.3C182.7 398.6 178.8 397.3 178.3 396.7C177.8 396.1 176.8 390.5 176.7 390.0M190.0 393.3C190.4 393.5 194.4 394.6 195.0 395.0C195.6 395.4 198.2 398.0 198.3 398.3C198.5 398.7 196.8 399.9 196.7 400.0M221.7 400.0C221.8 399.5 222.8 394.1 223.3 393.3C223.8 392.6 227.6 390.1 228.3 390.0C229.1 389.9 232.6 391.8 233.3 391.7C234.1 391.5 237.6 388.5 238.3 388.3C239.1 388.2 242.5 390.1 243.3 390.0C244.2 389.9 249.5 386.9 250.0 386.7M211.7 363.3C212.0 363.5 215.9 365.1 216.7 365.0C217.4 364.9 220.9 361.8 221.7 361.7C222.4 361.5 226.1 363.0 226.7 363.3C227.3 363.7 229.9 366.1 230.0 366.7C230.1 367.3 228.2 370.9 228.3 371.7C228.5 372.4 231.5 375.9 231.7 376.7C231.8 377.4 229.9 380.9 230.0 381.7C230.1 382.4 233.1 385.9 233.3 386.7C233.6 387.4 233.3 391.3 233.3 391.7M202.5 392.5C202.7 393.2 204.3 401.4 205.0 402.5C205.7 403.6 211.8 406.6 212.5 407.5C213.2 408.4 215.0 413.7 215.0 415.0C215.0 416.3 212.3 423.7 212.5 425.0C212.7 426.3 217.3 431.4 217.5 432.5C217.7 433.6 215.0 439.0 215.0 440.0C215.0 441.0 217.3 445.8 217.5 446.2M212.5 407.5C213.2 407.3 221.2 405.0 222.5 405.0C223.8 405.0 228.9 407.5 230.0 407.5C231.1 407.5 236.6 405.6 237.5 405.0C238.4 404.4 241.6 400.2 242.5 400.0C243.4 399.8 249.1 402.7 250.0 402.5C250.9 402.3 254.3 398.4 255.0 397.5C255.7 396.6 259.8 391.1 260.0 390.0C260.2 388.9 258.1 383.4 257.5 382.5C256.9 381.6 253.2 378.2 252.5 377.5C251.8 376.8 248.4 373.1 247.5 372.5C246.6 371.9 240.7 370.7 240.0 370.0C239.3 369.3 237.7 363.1 237.5 362.5M242.5 400.0C242.7 400.7 245.0 408.5 245.0 410.0C245.0 411.5 242.3 418.7 242.5 420.0C242.7 421.3 247.3 426.2 247.5 427.5C247.7 428.8 245.0 435.9 245.0 437.5C245.0 439.1 247.3 447.9 247.5 448.8M250.0 402.5C250.7 402.7 258.5 405.0 260.0 405.0C261.5 405.0 268.5 402.4 270.0 402.5C271.5 402.6 279.3 406.0 280.0 406.2M252.5 377.5C253.2 377.2 261.0 373.8 262.5 373.8C264.0 373.7 271.2 376.2 272.5 376.2C273.8 376.2 279.4 373.9 280.0 373.8" fill="none" stroke="#303030" stroke-width="0.4" stroke-linejoin="round" clip-path="url(#eth)"/>
<g class="lb"><text x="190.0" y="155.0">N.Western</text><text x="166.3" y="162.5">Western</text><text x="218.3" y="158.3">Cent.T</text><text x="237.0" y="155.8">Eastern</text><text x="233.3" y="171.7">Mekele</text><text x="229.7" y="178.7">S.Eastern</text><text x="191.3" y="179.7">N.Gondar</text><text x="210.8" y="193.7">WagHamra</text><text x="235.8" y="195.8">S.Tigray</text><text x="174.2" y="196.7">Gondar</text><text x="137.5" y="199.5">W.Gondar</text><text x="193.3" y="221.7">S.Gondar</text><text x="226.3" y="217.0">N.Wello</text><text x="268.8" y="173.8">Kilbati</text><text x="261.2" y="205.0">Fanti</text><text x="277.0" y="218.8">Awsi /Zone 1</text><text x="128.8" y="242.5">Metekel</text><text x="158.0" y="237.0">Awi</text><text x="168.0" y="240.0">W.Gojam</text><text x="189.2" y="255.8">E.Gojam</text><text x="220.8" y="242.5">South Wello</text><text x="249.7" y="250.0">Oromia</text><text x="260.8" y="258.7">Hari</text><text x="305.8" y="263.7">Siti</text><text x="305.0" y="280.8">D/D</text><text x="311.0" y="290.4">Harari</text><text x="341.0" y="295.0">Fafan</text><text x="301.0" y="303.0">E.Hararge</text><text x="372.4" y="323.0">Jarar</text><text x="317.0" y="330.4">Erer</text><text x="334.0" y="351.6">Nogob</text><text x="100.0" y="264.5">Assosa</text><text x="129.5" y="273.0">Kamashi</text><text x="87.0" y="288.2">M.Komo</text><text x="111.2" y="288.2">W.Wellega</text><text x="150.0" y="287.0">E.Wellega</text><text x="173.0" y="278.3">Horo</text><text x="97.5" y="304.0">K.Wellega</text><text x="142.5" y="313.2">B.Bedele</text><text x="90.0" y="317.0">Itang</text><text x="128.8" y="319.5">Illu</text><text x="66.2" y="322.5">Nuer</text><text x="160.0" y="329.5">Jimma</text><text x="91.2" y="339.5">Agnewak</text><text x="120.8" y="339.5">Sheka</text><text x="117.5" y="343.0">Maji</text><text x="142.0" y="348.8">Kefa</text><text x="111.2" y="357.5">Bench Sheko</text><text x="155.0" y="358.0">Konta</text><text x="167.0" y="355.0">Dawuro</text><text x="183.5" y="358.0">Wolayita</text><text x="118.8" y="379.0">Mirab Omo</text><text x="155.0" y="374.5">Bask</text><text x="164.5" y="373.0">Gofa</text><text x="178.5" y="378.0">Gamo</text><text x="147.5" y="400.8">S.Omo</text><text x="174.0" y="395.0">Ale</text><text x="178.3" y="400.8">Kon</text><text x="181.0" y="391.5">Deri</text><text x="189.0" y="397.5">Burji</text><text x="192.5" y="389.0">Am</text><text x="201.0" y="389.5">W.Guji</text><text x="201.0" y="379.0">Gedeo</text><text x="208.0" y="364.5">Sidama</text><text x="190.0" y="340.5">Had</text><text x="204.0" y="342.5">Hal</text><text x="189.0" y="347.0">Kem</text><text x="182.5" y="332.5">Yem</text><text x="193.0" y="322.0">Gurage</text><text x="201.0" y="332.5">Silte</text><text x="191.7" y="310.8">SW.Shewa</text><text x="223.3" y="313.3">E.Shewa</text><text x="185.0" y="294.0">W.Shewa</text><text x="209.7" y="276.7">NSH(OR)</text><text x="233.3" y="276.3">NSH(AM)</text><text x="220.0" y="299.0">K.A</text><text x="244.7" y="328.7">Arsi</text><text x="221.3" y="353.3">W.Arsi</text><text x="266.3" y="307.5">W.Hararge</text><text x="285.0" y="348.3">E.Bale</text><text x="255.5" y="373.0">Bale</text><text x="230.0" y="395.0">Guji</text><text x="200.0" y="426.0">Borena</text><text x="248.0" y="433.5">Dawa</text><text x="279.5" y="408.5">Liban</text><text x="315.5" y="402.5">Afder</text><text x="349.5" y="389.0">Shabelle</text><text x="378.8" y="370.0">Korahe</text><text x="423.0" y="348.0">Doolo</text></g>
<path d="M269.0 126.0L274.0 131.0L280.0 136.0L288.0 140.0L294.0 145.0L300.0 152.0L306.0 159.0L313.0 165.0L320.0 173.0L328.0 180.0L335.0 186.0L342.0 192.0L348.0 199.0L351.0 206.0L352.4 212.0L351.0 218.0L348.0 221.0L340.0 222.0L333.0 224.0L330.0 227.0L332.0 228.0L338.0 225.0L344.0 224.0L350.0 226.0L356.0 232.0L360.0 240.0L357.5 235.0L365.0 242.5L375.0 252.5L381.2 258.0L390.0 257.0L398.8 257.5L403.8 252.5L412.5 248.8L420.0 245.0L427.5 247.5L435.0 248.8L443.8 247.5L450.0 243.8L457.5 240.0L465.0 237.0L475.0 238.2L488.8 237.5M337.0 126.0L339.0 132.0L341.0 140.0L343.0 148.0L346.0 156.0L349.0 163.0L351.0 170.0L354.0 178.0L356.0 184.0L360.0 191.0L366.0 194.0L372.0 194.0L380.0 192.0L396.0 188.0L410.0 183.2L418.0 176.0L424.0 171.2L440.0 166.0L460.0 160.8L476.0 158.0L488.5 156.8M333.0 157.0L335.0 156.4L335.6 159.0L333.6 159.6ZM332.4 165.0L335.0 163.6L336.0 165.6L333.6 167.0ZM488.8 411.2L486.2 420.0L480.0 430.0L472.5 438.8L465.0 445.0L460.0 450.0L455.0 456.2L450.5 459.2M148.5 459.3L146.7 451.7L144.2 445.0L142.5 438.3L143.3 431.7L145.0 426.7L149.2 425.8L152.5 427.5L154.2 431.7L155.0 438.3L155.8 445.0L154.2 448.3L155.3 459.3" fill="none" stroke="#8a8a8a" stroke-width="0.6" stroke-linejoin="round"/>
<path d="M162.5 147.8L170.0 145.8L178.3 144.2L183.3 145.0L189.2 142.5L194.2 139.2L197.5 135.0L200.0 132.5L202.5 135.0L205.0 137.5L208.3 139.2L211.7 142.5L215.0 143.3L226.7 142.5L231.7 140.8L234.2 139.2L236.7 142.5L242.5 140.0L244.2 136.7L246.7 137.5L250.0 142.5L252.5 145.0L258.3 144.7L258.8 145.0L272.5 147.5L278.8 152.5L286.2 160.0L300.0 170.0L310.0 182.5L323.8 200.0L317.5 207.5L310.0 215.0L310.0 225.0L307.5 240.0L335.0 240.0L335.0 240.0L334.0 248.0L333.0 254.0L335.0 261.0L340.0 267.0L346.0 272.0L352.0 279.0L358.0 286.0L366.0 293.0L374.0 298.0L384.0 301.0L396.0 305.0L408.0 309.0L420.0 313.0L430.0 316.2L452.5 323.8L482.5 324.2L475.0 332.5L460.0 346.2L448.8 357.5L432.5 372.5L417.5 387.5L403.8 401.2L397.5 410.5L390.0 410.5L375.0 411.2L357.5 412.5L350.0 415.0L342.5 420.0L336.2 427.5L325.0 431.2L313.8 433.8L310.0 437.5L290.0 438.0L287.5 435.0L282.5 430.0L275.0 430.5L267.5 433.0L260.0 436.2L255.0 440.0L250.0 447.5L247.5 450.0L240.0 450.5L235.0 448.0L225.0 447.0L215.0 446.2L205.0 445.0L195.0 440.0L187.5 435.0L180.0 430.0L173.8 425.0L165.0 423.8L150.0 422.5L143.8 417.5L142.5 405.0L138.8 398.0L135.0 396.2L125.0 392.5L120.0 382.5L118.8 372.5L112.5 362.5L103.8 356.2L98.8 347.5L90.0 340.0L82.5 333.8L75.0 331.2L63.8 331.2L61.2 326.2L65.0 317.5L68.8 313.8L77.5 314.5L87.5 313.8L96.2 311.2L95.0 305.0L93.8 290.0L95.0 275.0L97.5 270.0L101.2 260.0L102.5 250.0L105.0 248.8L115.5 246.2L118.8 232.5L120.0 218.8L125.0 212.5L130.0 207.5L136.2 197.5L152.5 183.8L153.8 173.8L157.5 168.8L161.2 157.5L162.5 148.0Z" fill="none" stroke="#ffffff" stroke-width="1.8" stroke-linejoin="round"/>
<path d="M162.5 147.8L170.0 145.8L178.3 144.2L183.3 145.0L189.2 142.5L194.2 139.2L197.5 135.0L200.0 132.5L202.5 135.0L205.0 137.5L208.3 139.2L211.7 142.5L215.0 143.3L226.7 142.5L231.7 140.8L234.2 139.2L236.7 142.5L242.5 140.0L244.2 136.7L246.7 137.5L250.0 142.5L252.5 145.0L258.3 144.7L258.8 145.0L272.5 147.5L278.8 152.5L286.2 160.0L300.0 170.0L310.0 182.5L323.8 200.0L317.5 207.5L310.0 215.0L310.0 225.0L307.5 240.0L335.0 240.0L335.0 240.0L334.0 248.0L333.0 254.0L335.0 261.0L340.0 267.0L346.0 272.0L352.0 279.0L358.0 286.0L366.0 293.0L374.0 298.0L384.0 301.0L396.0 305.0L408.0 309.0L420.0 313.0L430.0 316.2L452.5 323.8L482.5 324.2L475.0 332.5L460.0 346.2L448.8 357.5L432.5 372.5L417.5 387.5L403.8 401.2L397.5 410.5L390.0 410.5L375.0 411.2L357.5 412.5L350.0 415.0L342.5 420.0L336.2 427.5L325.0 431.2L313.8 433.8L310.0 437.5L290.0 438.0L287.5 435.0L282.5 430.0L275.0 430.5L267.5 433.0L260.0 436.2L255.0 440.0L250.0 447.5L247.5 450.0L240.0 450.5L235.0 448.0L225.0 447.0L215.0 446.2L205.0 445.0L195.0 440.0L187.5 435.0L180.0 430.0L173.8 425.0L165.0 423.8L150.0 422.5L143.8 417.5L142.5 405.0L138.8 398.0L135.0 396.2L125.0 392.5L120.0 382.5L118.8 372.5L112.5 362.5L103.8 356.2L98.8 347.5L90.0 340.0L82.5 333.8L75.0 331.2L63.8 331.2L61.2 326.2L65.0 317.5L68.8 313.8L77.5 314.5L87.5 313.8L96.2 311.2L95.0 305.0L93.8 290.0L95.0 275.0L97.5 270.0L101.2 260.0L102.5 250.0L105.0 248.8L115.5 246.2L118.8 232.5L120.0 218.8L125.0 212.5L130.0 207.5L136.2 197.5L152.5 183.8L153.8 173.8L157.5 168.8L161.2 157.5L162.5 148.0Z" fill="none" stroke="#b4b4b4" stroke-width="0.7" stroke-linejoin="round"/>
<!--FRAME-->
<g stroke="#222" stroke-width="0.7" fill="none">
<rect x="55.5" y="126" width="433" height="333.3"/>
<path d="M46.3 156H55.5M46.3 212.25H55.5M46.3 268.5H55.5M46.3 324.75H55.5M46.3 381H55.5M46.3 437.25H55.5"/>
<path d="M89.25 459.3V468.3M145.5 459.3V468.3M201.75 459.3V468.3M258 459.3V468.3M314.25 459.3V468.3M370.5 459.3V468.3M426.75 459.3V468.3M483 459.3V468.3"/>
</g>
<text x="56.7" y="122.2" font-size="18.3" font-weight="bold" id="title">Daily minimum temperature (C) for 12-13 Jan 2026</text>
<g class="t" text-anchor="end">
<text x="38.5" y="160.7">14°N</text><text x="38.5" y="216.9">12°N</text><text x="38.5" y="273.2">10°N</text><text x="38.5" y="329.4">8°N</text><text x="38.5" y="385.7">6°N</text><text x="38.5" y="441.9">4°N</text>
</g>
<g class="t" text-anchor="middle">
<text x="89.25" y="486.5">34°E</text><text x="145.5" y="486.5">36°E</text><text x="201.75" y="486.5">38°E</text><text x="258" y="486.5">40°E</text><text x="314.25" y="486.5">42°E</text><text x="370.5" y="486.5">44°E</text><text x="426.75" y="486.5">46°E</text><text x="483" y="486.5">48°E</text>
</g>
<g>
<rect x="419" y="143" width="58.3" height="51" fill="#fff"/>
<path d="M423.69 182.06 A25.60 25.60 0 1 1 472.91 182.06" fill="none" stroke="#3f83e6" stroke-width="1.1"/>
<path d="M428.89 177.73 A19.60 19.60 0 1 1 467.71 177.73" fill="none" stroke="#9cc3f2" stroke-width="0.4"/>
<path d="M425.82 177.36 A22.60 22.60 0 1 1 470.78 177.36" fill="none" stroke="#2f72dc" stroke-width="2.8" stroke-dasharray="1.3 1.0" opacity="0.8"/>
<path d="M425.82 177.36 A22.60 22.60 0 1 1 470.78 177.36" fill="none" stroke="#ffffff" stroke-width="0.6" stroke-dasharray="0.5 0.9"/>
<circle cx="441" cy="162.6" r="3.3" fill="#ff7a1a"/><circle cx="441.2" cy="163" r="2" fill="#ffd21e"/>
<path d="M436.5 166.3c-1-2 1-3.4 2.6-2.8c1-2.2 4-2.6 5.6-1.6c1.4-1.8 4.6-2 6-0.6c2-1 4.6-0.2 5.4 1.4c2 0 4.6 0.8 5.8 2.4c0.6 1-0.6 1.6-2 1.6h-22c-0.8 0-1.2-0.2-1.4-0.4z" fill="#1b2d5e"/>
<path d="M440 164.6c2-1.4 6-1.6 9-0.8c3-0.8 7-0.4 10 1" fill="none" stroke="#3d66b0" stroke-width="0.6"/>
<g fill="#33406a"><rect x="440.0" y="168.3" width="0.45" height="1"/><rect x="442.2" y="168.6" width="0.45" height="1"/><rect x="444.5" y="168.3" width="0.45" height="1"/><rect x="446.8" y="168.8" width="0.45" height="1"/><rect x="449.0" y="168.3" width="0.45" height="1"/><rect x="451.2" y="168.7" width="0.45" height="1"/><rect x="453.5" y="168.3" width="0.45" height="1"/><rect x="455.8" y="168.6" width="0.45" height="1"/><rect x="443.0" y="170.6" width="0.45" height="1"/><rect x="445.3" y="171.0" width="0.45" height="1"/><rect x="447.6" y="170.5" width="0.45" height="1"/><rect x="449.9" y="171.0" width="0.45" height="1"/><rect x="452.2" y="170.6" width="0.45" height="1"/><rect x="446.0" y="172.8" width="0.45" height="1"/><rect x="448.4" y="173.2" width="0.45" height="1"/><rect x="450.6" y="172.8" width="0.45" height="1"/></g>
<path d="M424.3 182.6c1-2.2 3-4.2 5.6-4.6c2.4-0.2 4.6 1 6.6 0.6c3-0.8 6.2-3.6 9.2-3.8c3 0.2 5.4 2.4 8.6 3c3.6 0.4 7.2 0.2 10.4 1.4c3 1 5.6 2.2 6.6 3.6c-8 0.6-16 0.6-24 0.4c-8 0.2-16 0.2-23-0.6z" fill="#3f9a34"/>
<path d="M436.5 178.6c3-0.8 6.2-3.6 9.2-3.8c3 0.2 5.4 2.4 8.6 3c-3 0.4-5 1.6-7.4 2.4c-3.6-0.6-7-1-10.4-1.6z" fill="#2f8a2c"/>
<path d="M425 182.4c3-1.6 7-2.2 11-1.6c4 0.6 8 1.4 12 1.2c6-0.4 12-0.8 18 0.8c-7 0.6-14 0.6-21 0.4c-7 0.2-14 0.2-20-0.8z" fill="#8cc63f" opacity="0.8"/>
<path d="M452.5 179.3c-2.4 0.4-4.6 1-4.2 1.8c0.6 0.8 3 0.8 2.4 1.8" fill="none" stroke="#35c6e6" stroke-width="0.9"/>
<rect x="426.4" y="186.1" width="43.4" height="1.7" fill="#27408b" opacity="0.85"/>
<path d="M426.4 186.95h43.4" stroke="#fff" stroke-width="0.35" stroke-dasharray="1.1 0.5" opacity="0.7"/>
<path d="M427 189.3h41" stroke="#9aa7c8" stroke-width="0.35"/>
<ellipse cx="447.3" cy="190.2" rx="1.6" ry="1" fill="#fff" stroke="#555" stroke-width="0.35"/>
</g>
<!--COLORBAR-->
<g stroke="#333" stroke-width="0.45">
<rect x="520" y="130.7" width="25.7" height="40.5" fill="#ffb3b5"/>
<rect x="520" y="171.2" width="25.7" height="40.5" fill="#ee0000"/>
<rect x="520" y="211.7" width="25.7" height="40.5" fill="#ff8c00"/>
<rect x="520" y="252.2" width="25.7" height="40.5" fill="#ffe74c"/>
<rect x="520" y="292.7" width="25.7" height="40.5" fill="#9dd3f0"/>
<rect x="520" y="333.2" width="25.7" height="40.5" fill="#18a0f5"/>
<rect x="520" y="373.7" width="25.7" height="40.5" fill="#3250e0"/>
<rect x="520" y="414.2" width="25.7" height="40.5" fill="#8020f0"/>
</g>
<g class="cb" text-anchor="middle">
<text x="561.6" y="176.2">25</text><text x="561.6" y="216.7">21</text><text x="561.6" y="257.2">17</text><text x="561.6" y="297.7">13</text><text x="561.6" y="338.2">9</text><text x="561.6" y="378.7">5</text><text x="561.6" y="419.2">1</text>
</g>
</svg>
</body></html>
